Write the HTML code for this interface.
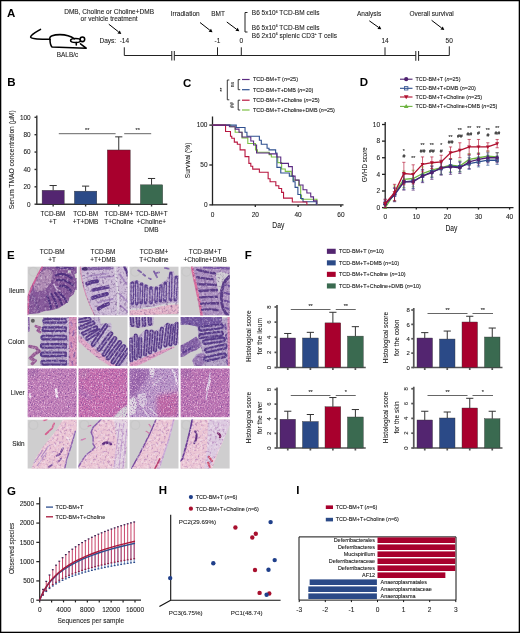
<!DOCTYPE html>
<html><head><meta charset="utf-8"><style>
html,body{margin:0;padding:0;background:#fff;}
svg{display:block;transform:translateZ(0);will-change:transform;}
text{font-family:"Liberation Sans", sans-serif;stroke:#1a1a1a;stroke-width:0.08px;}
</style></head><body>
<svg width="520" height="633" viewBox="0 0 520 633">
<defs><filter id="mott" x="0" y="0" width="1" height="1"><feTurbulence type="fractalNoise" baseFrequency="0.9" numOctaves="2" seed="3" result="n"/><feColorMatrix in="n" type="matrix" values="0 0 0 0 0.45  0 0 0 0 0.3  0 0 0 0 0.6  0 0 0 1.4 -0.55" result="spk"/><feComposite in="spk" in2="SourceGraphic" operator="atop"/></filter></defs>
<rect x="0" y="0" width="520" height="633" fill="#fff"/>
<text x="7.00" y="17.00" font-size="11.5" text-anchor="start" font-weight="bold" fill="#000"  style="stroke:none">A</text>
<g fill="none" stroke="#000" stroke-width="1.55" stroke-linecap="round" stroke-linejoin="round">
<path d="M40.5,29.4 C36,32 31,34.5 30.6,37 C30.5,39 40,39 49.5,39.3"/>
<path d="M50,39.5 C48.5,36 54,34.6 60,34.6 C66,34.7 71,36.3 74.5,38.8"/>
<path d="M50,39.5 C50,43 50.5,45.5 52,47 L86.2,48.2 L80.5,43.8"/>
<ellipse cx="75.6" cy="40.4" rx="5.0" ry="2.0"/>
<circle cx="82.4" cy="39.3" r="2.3" fill="#fff"/>
<line x1="76.3" y1="42.4" x2="76.3" y2="45.0"/>
</g>
<text x="67.50" y="57.00" font-size="6.4" text-anchor="middle" font-weight="normal" fill="#1a1a1a" >BALB/c</text>
<text x="109.10" y="13.50" font-size="6.5" text-anchor="middle" font-weight="normal" fill="#1a1a1a" >DMB, Choline or Choline+DMB</text>
<text x="109.10" y="20.60" font-size="6.5" text-anchor="middle" font-weight="normal" fill="#1a1a1a" >or vehicle treatment</text>
<text x="99.50" y="43.00" font-size="6.5" text-anchor="start" font-weight="normal" fill="#1a1a1a" >Days:</text>
<text x="124.40" y="43.00" font-size="6.5" text-anchor="middle" font-weight="normal" fill="#1a1a1a" >-14</text>
<text x="185.20" y="16.00" font-size="6.5" text-anchor="middle" font-weight="normal" fill="#1a1a1a" >Irradiation</text>
<text x="218.10" y="16.00" font-size="6.5" text-anchor="middle" font-weight="normal" fill="#1a1a1a" >BMT</text>
<text x="369.10" y="16.00" font-size="6.5" text-anchor="middle" font-weight="normal" fill="#1a1a1a" >Analysis</text>
<text x="431.60" y="16.00" font-size="6.5" text-anchor="middle" font-weight="normal" fill="#1a1a1a" >Overall survival</text>
<text x="217.50" y="43.00" font-size="6.5" text-anchor="middle" font-weight="normal" fill="#1a1a1a" >-1</text>
<text x="241.30" y="43.00" font-size="6.5" text-anchor="middle" font-weight="normal" fill="#1a1a1a" >0</text>
<text x="385.00" y="43.00" font-size="6.5" text-anchor="middle" font-weight="normal" fill="#1a1a1a" >14</text>
<text x="449.20" y="43.00" font-size="6.5" text-anchor="middle" font-weight="normal" fill="#1a1a1a" >50</text>
<g stroke="#222" stroke-width="1" fill="none">
<path d="M124.3,47.3 V55.5 H171.8 M174.3,55.5 H415.8 M418.6,55.5 H449.3 V46.3"/>
<path d="M217.5,55.5 V47.3 M241.3,55.5 V47.3 M385,55.5 V47.3"/>
<path d="M171.8,51 V60.5 M174.3,51 V60.5 M415.8,51 V60.8 M418.6,51 V60.8"/>
<path d="M247.5,12.5 H245 V32 H247.5"/>
</g>
<line x1="108.80" y1="24.20" x2="118.62" y2="31.90" stroke="#000" stroke-width="1.0" />
<path d="M121.30,34.00 L117.45,33.40 L119.80,30.41 Z" fill="#000"/>
<line x1="200.00" y1="22.50" x2="209.82" y2="30.20" stroke="#000" stroke-width="1.0" />
<path d="M212.50,32.30 L208.65,31.70 L211.00,28.71 Z" fill="#000"/>
<line x1="226.80" y1="22.00" x2="236.57" y2="29.27" stroke="#000" stroke-width="1.0" />
<path d="M239.30,31.30 L235.44,30.79 L237.71,27.75 Z" fill="#000"/>
<line x1="369.30" y1="20.80" x2="378.53" y2="27.33" stroke="#000" stroke-width="1.0" />
<path d="M381.30,29.30 L377.43,28.89 L379.62,25.78 Z" fill="#000"/>
<line x1="431.60" y1="20.30" x2="441.60" y2="27.94" stroke="#000" stroke-width="1.0" />
<path d="M444.30,30.00 L440.44,29.45 L442.75,26.43 Z" fill="#000"/>
<text x="251.80" y="15.30" font-size="6.5" text-anchor="start" font-weight="normal" fill="#1a1a1a" >B6 5x10<tspan dy="-2.7" font-size="3.6">6</tspan><tspan dy="2.7"> TCD-BM cells</tspan></text>
<text x="251.80" y="29.80" font-size="6.5" text-anchor="start" font-weight="normal" fill="#1a1a1a" >B6 5x10<tspan dy="-2.7" font-size="3.6">6</tspan><tspan dy="2.7"> TCD-BM cells</tspan></text>
<text x="251.80" y="38.00" font-size="6.5" text-anchor="start" font-weight="normal" fill="#1a1a1a" >B6 2x10<tspan dy="-2.7" font-size="3.6">6</tspan><tspan dy="2.7"> splenic CD3</tspan><tspan dy="-2.7" font-size="3.6">+</tspan><tspan dy="2.7"> T cells</tspan></text>
<text x="7.20" y="86.10" font-size="11.5" text-anchor="start" font-weight="bold" fill="#000"  style="stroke:none">B</text>
<g stroke="#333" stroke-width="1.4" fill="none">
<path d="M36.80,115.40 V204.20 H167.30"/>
<path d="M34.50,204.20 H36.80"/>
<path d="M34.50,186.82 H36.80"/>
<path d="M34.50,169.44 H36.80"/>
<path d="M34.50,152.06 H36.80"/>
<path d="M34.50,134.68 H36.80"/>
<path d="M34.50,117.30 H36.80"/>
<path d="M53.15,204.20 v2.30"/>
<path d="M85.60,204.20 v2.30"/>
<path d="M118.75,204.20 v2.30"/>
<path d="M151.55,204.20 v2.30"/>
</g>
<text x="30.60" y="206.50" font-size="6.4" text-anchor="end" font-weight="normal" fill="#1a1a1a" >0</text>
<text x="30.60" y="189.12" font-size="6.4" text-anchor="end" font-weight="normal" fill="#1a1a1a" >20</text>
<text x="30.60" y="171.74" font-size="6.4" text-anchor="end" font-weight="normal" fill="#1a1a1a" >40</text>
<text x="30.60" y="154.36" font-size="6.4" text-anchor="end" font-weight="normal" fill="#1a1a1a" >60</text>
<text x="30.60" y="136.98" font-size="6.4" text-anchor="end" font-weight="normal" fill="#1a1a1a" >80</text>
<text x="30.60" y="119.60" font-size="6.4" text-anchor="end" font-weight="normal" fill="#1a1a1a" >100</text>
<rect x="42.10" y="190.30" width="22.10" height="13.90" fill="#532570" stroke="#333" stroke-width="0.4"/>
<line x1="53.15" y1="190.30" x2="53.15" y2="185.52" stroke="#333" stroke-width="1.0" />
<line x1="49.55" y1="185.52" x2="56.75" y2="185.52" stroke="#333" stroke-width="1.0" />
<rect x="74.40" y="191.16" width="22.40" height="13.03" fill="#2b4a87" stroke="#333" stroke-width="0.4"/>
<line x1="85.60" y1="191.16" x2="85.60" y2="186.12" stroke="#333" stroke-width="1.0" />
<line x1="82.00" y1="186.12" x2="89.20" y2="186.12" stroke="#333" stroke-width="1.0" />
<rect x="107.30" y="149.97" width="22.90" height="54.23" fill="#a8002d" stroke="#333" stroke-width="0.4"/>
<line x1="118.75" y1="149.97" x2="118.75" y2="136.85" stroke="#333" stroke-width="1.0" />
<line x1="115.15" y1="136.85" x2="122.35" y2="136.85" stroke="#333" stroke-width="1.0" />
<rect x="140.40" y="184.82" width="22.30" height="19.38" fill="#3a6a50" stroke="#333" stroke-width="0.4"/>
<line x1="151.55" y1="184.82" x2="151.55" y2="178.48" stroke="#333" stroke-width="1.0" />
<line x1="147.95" y1="178.48" x2="155.15" y2="178.48" stroke="#333" stroke-width="1.0" />
<line x1="58.80" y1="133.70" x2="115.60" y2="133.70" stroke="#555" stroke-width="0.9" />
<text x="87.20" y="132.20" font-size="5.5" text-anchor="middle" font-weight="normal" fill="#333"  style="stroke-width:0.1px">**</text>
<line x1="124.20" y1="133.70" x2="151.20" y2="133.70" stroke="#555" stroke-width="0.9" />
<text x="137.70" y="132.20" font-size="5.5" text-anchor="middle" font-weight="normal" fill="#333"  style="stroke-width:0.1px">**</text>
<text transform="translate(14.20,159.80) rotate(-90) scale(0.8728542333430317,1)" font-size="7.7" text-anchor="middle" fill="#1a1a1a">Serum TMAO concentration (μM)</text>
<text x="52.90" y="216.30" font-size="6.4" text-anchor="middle" font-weight="normal" fill="#1a1a1a" >TCD-BM</text>
<text x="52.90" y="224.10" font-size="6.4" text-anchor="middle" font-weight="normal" fill="#1a1a1a" >+T</text>
<text x="85.60" y="216.30" font-size="6.4" text-anchor="middle" font-weight="normal" fill="#1a1a1a" >TCD-BM</text>
<text x="85.60" y="224.10" font-size="6.4" text-anchor="middle" font-weight="normal" fill="#1a1a1a" >+T+DMB</text>
<text x="118.90" y="216.30" font-size="6.4" text-anchor="middle" font-weight="normal" fill="#1a1a1a" >TCD-BM+</text>
<text x="118.90" y="224.10" font-size="6.4" text-anchor="middle" font-weight="normal" fill="#1a1a1a" >T+Choline</text>
<text x="151.40" y="216.30" font-size="6.4" text-anchor="middle" font-weight="normal" fill="#1a1a1a" >TCD-BM+T</text>
<text x="151.40" y="224.10" font-size="6.4" text-anchor="middle" font-weight="normal" fill="#1a1a1a" >+Choline+</text>
<text x="151.40" y="231.90" font-size="6.4" text-anchor="middle" font-weight="normal" fill="#1a1a1a" >DMB</text>
<text x="183.00" y="86.60" font-size="11.5" text-anchor="start" font-weight="bold" fill="#000"  style="stroke:none">C</text>
<line x1="242.00" y1="79.50" x2="249.60" y2="79.50" stroke="#5b2a82" stroke-width="1.2" />
<text x="253.00" y="81.40" font-size="5.45" text-anchor="start" font-weight="normal" fill="#1a1a1a"  style="stroke-width:0.1px">TCD-BM+T (<tspan font-style="italic">n</tspan>=25)</text>
<line x1="242.00" y1="89.70" x2="249.60" y2="89.70" stroke="#2e4f8f" stroke-width="1.2" />
<text x="253.00" y="91.60" font-size="5.45" text-anchor="start" font-weight="normal" fill="#1a1a1a"  style="stroke-width:0.1px">TCD-BM+T+DMB (<tspan font-style="italic">n</tspan>=20)</text>
<line x1="242.00" y1="100.20" x2="249.60" y2="100.20" stroke="#b8163f" stroke-width="1.2" />
<text x="253.00" y="102.10" font-size="5.45" text-anchor="start" font-weight="normal" fill="#1a1a1a"  style="stroke-width:0.1px">TCD-BM+T+Choline (<tspan font-style="italic">n</tspan>=25)</text>
<line x1="242.00" y1="110.00" x2="249.60" y2="110.00" stroke="#7cc043" stroke-width="1.2" />
<text x="253.00" y="111.90" font-size="5.45" text-anchor="start" font-weight="normal" fill="#1a1a1a"  style="stroke-width:0.1px">TCD-BM+T+Choline+DMB (<tspan font-style="italic">n</tspan>=25)</text>
<g stroke="#222" stroke-width="0.9" fill="none">
<path d="M240.2,79.6 H238.2 V89.7 H240.2"/>
<path d="M240.2,100.2 H238.2 V110.0 H240.2"/>
<path d="M229.3,80.0 H227.3 V99.8 H229.3"/>
</g>
<text transform="translate(233.6,84.6) rotate(-90)" font-size="5.2" text-anchor="middle" fill="#333">ns</text>
<text transform="translate(224.4,89.8) rotate(-90)" font-size="5.2" text-anchor="middle" fill="#333">**</text>
<text transform="translate(233.6,105.0) rotate(-90)" font-size="5.2" text-anchor="middle" fill="#333">##</text>
<g stroke="#222" stroke-width="1.3" fill="none">
<path d="M212.5,116.5 V204.9 H343.5"/>
<path d="M255.30,204.9 v2"/>
<path d="M298.10,204.9 v2"/>
<path d="M340.90,204.9 v2"/>
<path d="M209.3,204.90 h3.2"/>
<path d="M209.3,165.00 h3.2"/>
<path d="M209.3,125.10 h3.2"/>
</g>
<text x="212.50" y="216.70" font-size="6.5" text-anchor="middle" font-weight="normal" fill="#1a1a1a" >0</text>
<text x="255.30" y="216.70" font-size="6.5" text-anchor="middle" font-weight="normal" fill="#1a1a1a" >20</text>
<text x="298.10" y="216.70" font-size="6.5" text-anchor="middle" font-weight="normal" fill="#1a1a1a" >40</text>
<text x="340.90" y="216.70" font-size="6.5" text-anchor="middle" font-weight="normal" fill="#1a1a1a" >60</text>
<text x="207.50" y="207.20" font-size="6.5" text-anchor="end" font-weight="normal" fill="#1a1a1a" >0</text>
<text x="207.50" y="167.30" font-size="6.5" text-anchor="end" font-weight="normal" fill="#1a1a1a" >50</text>
<text x="207.50" y="127.40" font-size="6.5" text-anchor="end" font-weight="normal" fill="#1a1a1a" >100</text>
<text transform="translate(189.80,160.40) rotate(-90) scale(0.8466152038773075,1)" font-size="7.8" text-anchor="middle" fill="#1a1a1a">Survival (%)</text>
<text x="278.30" y="228.30" font-size="8.2" text-anchor="middle" font-weight="normal" fill="#1a1a1a" transform="translate(278.3,0) scale(0.82,1) translate(-278.3,0)">Day</text>
<path d="M212.50,125.10 H230.69 V126.70 H235.18 V128.29 H235.18 V132.28 H242.03 V132.28 H242.03 V137.87 H247.81 V137.87 H247.81 V143.45 H255.51 V143.45 H255.51 V149.84 H257.44 V149.84 H257.44 V152.23 H269.21 V152.23 H269.21 V154.63 H271.35 V154.63 H271.35 V157.02 H274.99 V157.02 H277.77 V162.61 H281.62 V162.61 H281.62 V168.99 H285.26 V168.99 H285.26 V171.38 H291.25 V171.38 H291.25 V176.17 H293.18 V176.17 H293.18 V180.16 H298.74 V180.16 H298.74 V185.75 H300.67 V185.75 H300.67 V195.32 H301.52 V195.32 H301.52 V199.31 H316.93 V199.31 H316.93 V204.90" fill="none" stroke="#7cc043" stroke-width="1.1"/>
<path d="M212.50,125.10 H236.25 V125.10 H236.25 V127.49 H245.03 V127.49 H245.03 V132.28 H246.95 V132.28 H246.95 V136.27 H259.37 V136.27 H259.37 V140.26 H261.29 V140.26 H261.29 V144.25 H267.07 V144.25 H267.07 V148.24 H269.00 V148.24 H269.00 V149.84 H272.85 V149.84 H275.63 V153.03 H276.91 V153.03 H276.91 V167.39 H280.77 V167.39 H280.77 V172.98 H289.33 V172.98 H289.33 V176.17 H293.18 V176.17 H293.18 V181.76 H295.10 V181.76 H295.10 V187.34 H297.89 V187.34 H297.89 V194.53 H300.67 V194.53 H300.67 V198.52 H303.02 V198.52 H303.02 V201.71 H316.29 V201.71 H316.29 V204.90" fill="none" stroke="#2e4f8f" stroke-width="1.1"/>
<path d="M212.50,125.10 H225.55 V125.10 H225.55 V131.48 H230.48 V131.48 H230.48 V136.27 H231.76 V136.27 H231.76 V138.27 H234.33 V138.27 H234.33 V142.10 H237.32 V142.10 H237.32 V144.25 H240.11 V144.25 H240.11 V149.84 H245.03 V149.84 H245.03 V156.62 H248.88 V156.62 H248.88 V163.40 H250.81 V163.40 H250.81 V166.28 H252.73 V166.28 H252.73 V169.15 H259.37 V169.15 H259.37 V172.18 H268.14 V172.18 H268.14 V178.81 H270.07 V178.81 H270.07 V181.76 H275.84 V181.76 H275.84 V185.75 H278.84 V185.75 H278.84 V188.46 H281.62 V188.46 H281.62 V192.37 H283.55 V192.37 H283.55 V198.12 H292.32 V198.12 H292.32 V202.03 H306.87 V202.03 H306.87 V204.90" fill="none" stroke="#b8163f" stroke-width="1.1"/>
<path d="M212.50,125.10 H229.41 V125.10 H229.41 V126.70 H235.18 V126.70 H235.18 V129.09 H239.04 V129.09 H239.04 V132.28 H242.03 V132.28 H242.03 V137.07 H250.81 V137.07 H250.81 V141.06 H253.59 V141.06 H253.59 V145.05 H256.58 V145.05 H256.58 V153.03 H269.21 V153.03 H269.21 V153.83 H276.91 V153.83 H276.91 V157.02 H280.77 V157.02 H280.77 V163.40 H288.47 V163.40 H288.47 V166.60 H292.32 V166.60 H292.32 V176.17 H295.10 V176.17 H295.10 V180.16 H299.17 V180.16 H299.17 V184.95 H303.02 V184.95 H303.02 V189.74 H306.87 V189.74 H306.87 V192.93 H310.73 V192.93 H310.73 V196.92 H313.51 V196.92 H313.51 V200.91 H316.93 V200.91 H316.93 V204.90" fill="none" stroke="#5b2a82" stroke-width="1.1"/>
<text x="359.80" y="86.30" font-size="11.5" text-anchor="start" font-weight="bold" fill="#000"  style="stroke:none">D</text>
<line x1="400.00" y1="79.20" x2="412.50" y2="79.20" stroke="#4e2170" stroke-width="1.1" />
<circle cx="406.20" cy="79.20" r="2.10" fill="#4e2170"/>
<text x="415.50" y="81.10" font-size="5.45" text-anchor="start" font-weight="normal" fill="#1a1a1a"  style="stroke-width:0.1px">TCD-BM+T (<tspan font-style="italic">n</tspan>=25)</text>
<line x1="400.00" y1="88.30" x2="412.50" y2="88.30" stroke="#2e4f8f" stroke-width="1.1" />
<rect x="404.50" y="86.60" width="3.40" height="3.40" fill="none" stroke="#2e4f8f" stroke-width="0.8"/>
<text x="415.50" y="90.20" font-size="5.45" text-anchor="start" font-weight="normal" fill="#1a1a1a"  style="stroke-width:0.1px">TCD-BM+T+DMB (<tspan font-style="italic">n</tspan>=20)</text>
<line x1="400.00" y1="97.00" x2="412.50" y2="97.00" stroke="#b0102f" stroke-width="1.1" />
<path d="M403.89,95.32 H408.51 L406.20,99.31 Z" fill="#b0102f"/>
<text x="415.50" y="98.90" font-size="5.45" text-anchor="start" font-weight="normal" fill="#1a1a1a"  style="stroke-width:0.1px">TCD-BM+T+Choline (<tspan font-style="italic">n</tspan>=25)</text>
<line x1="400.00" y1="106.40" x2="412.50" y2="106.40" stroke="#6cb33f" stroke-width="1.1" />
<path d="M403.89,108.08 H408.51 L406.20,104.09 Z" fill="#6cb33f"/>
<text x="415.50" y="108.30" font-size="5.45" text-anchor="start" font-weight="normal" fill="#1a1a1a"  style="stroke-width:0.1px">TCD-BM+T+Choline+DMB (<tspan font-style="italic">n</tspan>=25)</text>
<g stroke="#222" stroke-width="1.3" fill="none">
<path d="M385.2,122.0 V207.6 H513.5"/>
<path d="M416.30,207.6 v2"/>
<path d="M447.40,207.6 v2"/>
<path d="M478.50,207.6 v2"/>
<path d="M509.60,207.6 v2"/>
<path d="M382.0,207.60 h3.2"/>
<path d="M382.0,190.98 h3.2"/>
<path d="M382.0,174.36 h3.2"/>
<path d="M382.0,157.74 h3.2"/>
<path d="M382.0,141.12 h3.2"/>
<path d="M382.0,124.50 h3.2"/>
</g>
<text x="385.20" y="219.40" font-size="6.5" text-anchor="middle" font-weight="normal" fill="#1a1a1a" >0</text>
<text x="416.30" y="219.40" font-size="6.5" text-anchor="middle" font-weight="normal" fill="#1a1a1a" >10</text>
<text x="447.40" y="219.40" font-size="6.5" text-anchor="middle" font-weight="normal" fill="#1a1a1a" >20</text>
<text x="478.50" y="219.40" font-size="6.5" text-anchor="middle" font-weight="normal" fill="#1a1a1a" >30</text>
<text x="509.60" y="219.40" font-size="6.5" text-anchor="middle" font-weight="normal" fill="#1a1a1a" >40</text>
<text x="380.00" y="209.90" font-size="6.5" text-anchor="end" font-weight="normal" fill="#1a1a1a" >0</text>
<text x="380.00" y="193.28" font-size="6.5" text-anchor="end" font-weight="normal" fill="#1a1a1a" >2</text>
<text x="380.00" y="176.66" font-size="6.5" text-anchor="end" font-weight="normal" fill="#1a1a1a" >4</text>
<text x="380.00" y="160.04" font-size="6.5" text-anchor="end" font-weight="normal" fill="#1a1a1a" >6</text>
<text x="380.00" y="143.42" font-size="6.5" text-anchor="end" font-weight="normal" fill="#1a1a1a" >8</text>
<text x="380.00" y="126.80" font-size="6.5" text-anchor="end" font-weight="normal" fill="#1a1a1a" >10</text>
<text transform="translate(366.50,164.60) rotate(-90) scale(0.7949997258621634,1)" font-size="7.8" text-anchor="middle" fill="#1a1a1a">GVHD score</text>
<text x="451.40" y="231.30" font-size="8.2" text-anchor="middle" font-weight="normal" fill="#1a1a1a" transform="translate(451.4,0) scale(0.82,1) translate(-451.4,0)">Day</text>
<path d="M385.20,204.28 V207.60 M383.60,204.28 h3.2 M383.60,207.60 h3.2" stroke="#6cb33f" stroke-width="0.8" fill="none" opacity="0.8"/>
<path d="M394.53,185.99 V200.95 M392.93,185.99 h3.2 M392.93,200.95 h3.2" stroke="#6cb33f" stroke-width="0.8" fill="none" opacity="0.8"/>
<path d="M403.86,171.04 V187.66 M402.26,171.04 h3.2 M402.26,187.66 h3.2" stroke="#6cb33f" stroke-width="0.8" fill="none" opacity="0.8"/>
<path d="M413.19,170.20 V186.82 M411.59,170.20 h3.2 M411.59,186.82 h3.2" stroke="#6cb33f" stroke-width="0.8" fill="none" opacity="0.8"/>
<path d="M422.52,166.88 V180.18 M420.92,166.88 h3.2 M420.92,180.18 h3.2" stroke="#6cb33f" stroke-width="0.8" fill="none" opacity="0.8"/>
<path d="M431.85,163.56 V176.85 M430.25,163.56 h3.2 M430.25,176.85 h3.2" stroke="#6cb33f" stroke-width="0.8" fill="none" opacity="0.8"/>
<path d="M441.18,161.06 V174.36 M439.58,161.06 h3.2 M439.58,174.36 h3.2" stroke="#6cb33f" stroke-width="0.8" fill="none" opacity="0.8"/>
<path d="M450.51,158.57 V171.87 M448.91,158.57 h3.2 M448.91,171.87 h3.2" stroke="#6cb33f" stroke-width="0.8" fill="none" opacity="0.8"/>
<path d="M459.84,160.23 V171.87 M458.24,160.23 h3.2 M458.24,171.87 h3.2" stroke="#6cb33f" stroke-width="0.8" fill="none" opacity="0.8"/>
<path d="M469.17,153.59 V165.22 M467.57,153.59 h3.2 M467.57,165.22 h3.2" stroke="#6cb33f" stroke-width="0.8" fill="none" opacity="0.8"/>
<path d="M478.50,152.75 V162.73 M476.90,152.75 h3.2 M476.90,162.73 h3.2" stroke="#6cb33f" stroke-width="0.8" fill="none" opacity="0.8"/>
<path d="M487.83,151.09 V161.06 M486.23,151.09 h3.2 M486.23,161.06 h3.2" stroke="#6cb33f" stroke-width="0.8" fill="none" opacity="0.8"/>
<path d="M497.16,152.75 V161.06 M495.56,152.75 h3.2 M495.56,161.06 h3.2" stroke="#6cb33f" stroke-width="0.8" fill="none" opacity="0.8"/>
<polyline points="385.20,207.60 394.53,193.47 403.86,179.35 413.19,178.51 422.52,173.53 431.85,170.20 441.18,167.71 450.51,165.22 459.84,166.05 469.17,159.40 478.50,157.74 487.83,156.08 497.16,156.91" fill="none" stroke="#6cb33f" stroke-width="1.3"/>
<path d="M383.22,209.04 H387.18 L385.20,205.62 Z" fill="#6cb33f"/>
<path d="M392.55,194.91 H396.51 L394.53,191.49 Z" fill="#6cb33f"/>
<path d="M401.88,180.79 H405.84 L403.86,177.37 Z" fill="#6cb33f"/>
<path d="M411.21,179.95 H415.17 L413.19,176.53 Z" fill="#6cb33f"/>
<path d="M420.54,174.97 H424.50 L422.52,171.55 Z" fill="#6cb33f"/>
<path d="M429.87,171.64 H433.83 L431.85,168.22 Z" fill="#6cb33f"/>
<path d="M439.20,169.15 H443.16 L441.18,165.73 Z" fill="#6cb33f"/>
<path d="M448.53,166.66 H452.49 L450.51,163.24 Z" fill="#6cb33f"/>
<path d="M457.86,167.49 H461.82 L459.84,164.07 Z" fill="#6cb33f"/>
<path d="M467.19,160.84 H471.15 L469.17,157.42 Z" fill="#6cb33f"/>
<path d="M476.52,159.18 H480.48 L478.50,155.76 Z" fill="#6cb33f"/>
<path d="M485.85,157.52 H489.81 L487.83,154.10 Z" fill="#6cb33f"/>
<path d="M495.18,158.35 H499.14 L497.16,154.93 Z" fill="#6cb33f"/>
<path d="M385.20,199.29 V207.60 M383.60,199.29 h3.2 M383.60,207.60 h3.2" stroke="#2e4f8f" stroke-width="0.8" fill="none" opacity="0.8"/>
<path d="M394.53,188.49 V201.78 M392.93,188.49 h3.2 M392.93,201.78 h3.2" stroke="#2e4f8f" stroke-width="0.8" fill="none" opacity="0.8"/>
<path d="M403.86,174.36 V189.32 M402.26,174.36 h3.2 M402.26,189.32 h3.2" stroke="#2e4f8f" stroke-width="0.8" fill="none" opacity="0.8"/>
<path d="M413.19,173.53 V188.49 M411.59,173.53 h3.2 M411.59,188.49 h3.2" stroke="#2e4f8f" stroke-width="0.8" fill="none" opacity="0.8"/>
<path d="M422.52,170.20 V181.84 M420.92,170.20 h3.2 M420.92,181.84 h3.2" stroke="#2e4f8f" stroke-width="0.8" fill="none" opacity="0.8"/>
<path d="M431.85,166.05 V177.68 M430.25,166.05 h3.2 M430.25,177.68 h3.2" stroke="#2e4f8f" stroke-width="0.8" fill="none" opacity="0.8"/>
<path d="M441.18,162.73 V174.36 M439.58,162.73 h3.2 M439.58,174.36 h3.2" stroke="#2e4f8f" stroke-width="0.8" fill="none" opacity="0.8"/>
<path d="M450.51,159.40 V172.70 M448.91,159.40 h3.2 M448.91,172.70 h3.2" stroke="#2e4f8f" stroke-width="0.8" fill="none" opacity="0.8"/>
<path d="M459.84,161.90 V171.87 M458.24,161.90 h3.2 M458.24,171.87 h3.2" stroke="#2e4f8f" stroke-width="0.8" fill="none" opacity="0.8"/>
<path d="M469.17,157.74 V169.37 M467.57,157.74 h3.2 M467.57,169.37 h3.2" stroke="#2e4f8f" stroke-width="0.8" fill="none" opacity="0.8"/>
<path d="M478.50,156.91 V166.88 M476.90,156.91 h3.2 M476.90,166.88 h3.2" stroke="#2e4f8f" stroke-width="0.8" fill="none" opacity="0.8"/>
<path d="M487.83,155.25 V165.22 M486.23,155.25 h3.2 M486.23,165.22 h3.2" stroke="#2e4f8f" stroke-width="0.8" fill="none" opacity="0.8"/>
<path d="M497.16,156.08 V164.39 M495.56,156.08 h3.2 M495.56,164.39 h3.2" stroke="#2e4f8f" stroke-width="0.8" fill="none" opacity="0.8"/>
<polyline points="385.20,203.44 394.53,195.13 403.86,181.84 413.19,181.01 422.52,176.02 431.85,171.87 441.18,168.54 450.51,166.05 459.84,166.88 469.17,163.56 478.50,161.90 487.83,160.23 497.16,160.23" fill="none" stroke="#2e4f8f" stroke-width="1.3"/>
<rect x="383.80" y="202.04" width="2.80" height="2.80" fill="none" stroke="#2e4f8f" stroke-width="0.8"/>
<rect x="393.13" y="193.73" width="2.80" height="2.80" fill="none" stroke="#2e4f8f" stroke-width="0.8"/>
<rect x="402.46" y="180.44" width="2.80" height="2.80" fill="none" stroke="#2e4f8f" stroke-width="0.8"/>
<rect x="411.79" y="179.61" width="2.80" height="2.80" fill="none" stroke="#2e4f8f" stroke-width="0.8"/>
<rect x="421.12" y="174.62" width="2.80" height="2.80" fill="none" stroke="#2e4f8f" stroke-width="0.8"/>
<rect x="430.45" y="170.47" width="2.80" height="2.80" fill="none" stroke="#2e4f8f" stroke-width="0.8"/>
<rect x="439.78" y="167.14" width="2.80" height="2.80" fill="none" stroke="#2e4f8f" stroke-width="0.8"/>
<rect x="449.11" y="164.65" width="2.80" height="2.80" fill="none" stroke="#2e4f8f" stroke-width="0.8"/>
<rect x="458.44" y="165.48" width="2.80" height="2.80" fill="none" stroke="#2e4f8f" stroke-width="0.8"/>
<rect x="467.77" y="162.16" width="2.80" height="2.80" fill="none" stroke="#2e4f8f" stroke-width="0.8"/>
<rect x="477.10" y="160.50" width="2.80" height="2.80" fill="none" stroke="#2e4f8f" stroke-width="0.8"/>
<rect x="486.43" y="158.83" width="2.80" height="2.80" fill="none" stroke="#2e4f8f" stroke-width="0.8"/>
<rect x="495.76" y="158.83" width="2.80" height="2.80" fill="none" stroke="#2e4f8f" stroke-width="0.8"/>
<path d="M385.20,200.95 V207.60 M383.60,200.95 h3.2 M383.60,207.60 h3.2" stroke="#4e2170" stroke-width="0.8" fill="none" opacity="0.8"/>
<path d="M394.53,187.66 V200.95 M392.93,187.66 h3.2 M392.93,200.95 h3.2" stroke="#4e2170" stroke-width="0.8" fill="none" opacity="0.8"/>
<path d="M403.86,173.53 V190.15 M402.26,173.53 h3.2 M402.26,190.15 h3.2" stroke="#4e2170" stroke-width="0.8" fill="none" opacity="0.8"/>
<path d="M413.19,173.53 V190.15 M411.59,173.53 h3.2 M411.59,190.15 h3.2" stroke="#4e2170" stroke-width="0.8" fill="none" opacity="0.8"/>
<path d="M422.52,169.37 V182.67 M420.92,169.37 h3.2 M420.92,182.67 h3.2" stroke="#4e2170" stroke-width="0.8" fill="none" opacity="0.8"/>
<path d="M431.85,166.05 V179.35 M430.25,166.05 h3.2 M430.25,179.35 h3.2" stroke="#4e2170" stroke-width="0.8" fill="none" opacity="0.8"/>
<path d="M441.18,160.23 V175.19 M439.58,160.23 h3.2 M439.58,175.19 h3.2" stroke="#4e2170" stroke-width="0.8" fill="none" opacity="0.8"/>
<path d="M450.51,159.40 V174.36 M448.91,159.40 h3.2 M448.91,174.36 h3.2" stroke="#4e2170" stroke-width="0.8" fill="none" opacity="0.8"/>
<path d="M459.84,161.90 V173.53 M458.24,161.90 h3.2 M458.24,173.53 h3.2" stroke="#4e2170" stroke-width="0.8" fill="none" opacity="0.8"/>
<path d="M469.17,155.25 V168.54 M467.57,155.25 h3.2 M467.57,168.54 h3.2" stroke="#4e2170" stroke-width="0.8" fill="none" opacity="0.8"/>
<path d="M478.50,153.59 V165.22 M476.90,153.59 h3.2 M476.90,165.22 h3.2" stroke="#4e2170" stroke-width="0.8" fill="none" opacity="0.8"/>
<path d="M487.83,152.75 V162.73 M486.23,152.75 h3.2 M486.23,162.73 h3.2" stroke="#4e2170" stroke-width="0.8" fill="none" opacity="0.8"/>
<path d="M497.16,152.75 V162.73 M495.56,152.75 h3.2 M495.56,162.73 h3.2" stroke="#4e2170" stroke-width="0.8" fill="none" opacity="0.8"/>
<polyline points="385.20,204.28 394.53,194.30 403.86,181.84 413.19,181.84 422.52,176.02 431.85,172.70 441.18,167.71 450.51,166.88 459.84,167.71 469.17,161.90 478.50,159.40 487.83,157.74 497.16,157.74" fill="none" stroke="#4e2170" stroke-width="1.3"/>
<circle cx="385.20" cy="204.28" r="1.80" fill="#4e2170"/>
<circle cx="394.53" cy="194.30" r="1.80" fill="#4e2170"/>
<circle cx="403.86" cy="181.84" r="1.80" fill="#4e2170"/>
<circle cx="413.19" cy="181.84" r="1.80" fill="#4e2170"/>
<circle cx="422.52" cy="176.02" r="1.80" fill="#4e2170"/>
<circle cx="431.85" cy="172.70" r="1.80" fill="#4e2170"/>
<circle cx="441.18" cy="167.71" r="1.80" fill="#4e2170"/>
<circle cx="450.51" cy="166.88" r="1.80" fill="#4e2170"/>
<circle cx="459.84" cy="167.71" r="1.80" fill="#4e2170"/>
<circle cx="469.17" cy="161.90" r="1.80" fill="#4e2170"/>
<circle cx="478.50" cy="159.40" r="1.80" fill="#4e2170"/>
<circle cx="487.83" cy="157.74" r="1.80" fill="#4e2170"/>
<circle cx="497.16" cy="157.74" r="1.80" fill="#4e2170"/>
<path d="M385.20,199.29 V207.60 M383.60,199.29 h3.2 M383.60,207.60 h3.2" stroke="#b0102f" stroke-width="0.8" fill="none" opacity="0.8"/>
<path d="M394.53,184.33 V200.95 M392.93,184.33 h3.2 M392.93,200.95 h3.2" stroke="#b0102f" stroke-width="0.8" fill="none" opacity="0.8"/>
<path d="M403.86,162.31 V184.75 M402.26,162.31 h3.2 M402.26,184.75 h3.2" stroke="#b0102f" stroke-width="0.8" fill="none" opacity="0.8"/>
<path d="M413.19,164.80 V183.92 M411.59,164.80 h3.2 M411.59,183.92 h3.2" stroke="#b0102f" stroke-width="0.8" fill="none" opacity="0.8"/>
<path d="M422.52,156.91 V171.87 M420.92,156.91 h3.2 M420.92,171.87 h3.2" stroke="#b0102f" stroke-width="0.8" fill="none" opacity="0.8"/>
<path d="M431.85,156.91 V168.54 M430.25,156.91 h3.2 M430.25,168.54 h3.2" stroke="#b0102f" stroke-width="0.8" fill="none" opacity="0.8"/>
<path d="M441.18,155.25 V168.54 M439.58,155.25 h3.2 M439.58,168.54 h3.2" stroke="#b0102f" stroke-width="0.8" fill="none" opacity="0.8"/>
<path d="M450.51,146.94 V158.57 M448.91,146.94 h3.2 M448.91,158.57 h3.2" stroke="#b0102f" stroke-width="0.8" fill="none" opacity="0.8"/>
<path d="M459.84,142.78 V157.74 M458.24,142.78 h3.2 M458.24,157.74 h3.2" stroke="#b0102f" stroke-width="0.8" fill="none" opacity="0.8"/>
<path d="M469.17,139.46 V154.42 M467.57,139.46 h3.2 M467.57,154.42 h3.2" stroke="#b0102f" stroke-width="0.8" fill="none" opacity="0.8"/>
<path d="M478.50,139.46 V154.42 M476.90,139.46 h3.2 M476.90,154.42 h3.2" stroke="#b0102f" stroke-width="0.8" fill="none" opacity="0.8"/>
<path d="M487.83,142.78 V151.09 M486.23,142.78 h3.2 M486.23,151.09 h3.2" stroke="#b0102f" stroke-width="0.8" fill="none" opacity="0.8"/>
<path d="M497.16,139.46 V147.77 M495.56,139.46 h3.2 M495.56,147.77 h3.2" stroke="#b0102f" stroke-width="0.8" fill="none" opacity="0.8"/>
<polyline points="385.20,203.44 394.53,192.64 403.86,173.53 413.19,174.36 422.52,164.39 431.85,162.73 441.18,161.90 450.51,152.75 459.84,150.26 469.17,146.94 478.50,146.94 487.83,146.94 497.16,143.61" fill="none" stroke="#b0102f" stroke-width="1.3"/>
<path d="M383.22,202.00 H387.18 L385.20,205.42 Z" fill="#b0102f"/>
<path d="M392.55,191.20 H396.51 L394.53,194.62 Z" fill="#b0102f"/>
<path d="M401.88,172.09 H405.84 L403.86,175.51 Z" fill="#b0102f"/>
<path d="M411.21,172.92 H415.17 L413.19,176.34 Z" fill="#b0102f"/>
<path d="M420.54,162.95 H424.50 L422.52,166.37 Z" fill="#b0102f"/>
<path d="M429.87,161.29 H433.83 L431.85,164.71 Z" fill="#b0102f"/>
<path d="M439.20,160.46 H443.16 L441.18,163.88 Z" fill="#b0102f"/>
<path d="M448.53,151.31 H452.49 L450.51,154.73 Z" fill="#b0102f"/>
<path d="M457.86,148.82 H461.82 L459.84,152.24 Z" fill="#b0102f"/>
<path d="M467.19,145.50 H471.15 L469.17,148.92 Z" fill="#b0102f"/>
<path d="M476.52,145.50 H480.48 L478.50,148.92 Z" fill="#b0102f"/>
<path d="M485.85,145.50 H489.81 L487.83,148.92 Z" fill="#b0102f"/>
<path d="M495.18,142.17 H499.14 L497.16,145.59 Z" fill="#b0102f"/>
<text x="403.86" y="152.50" font-size="5.2" text-anchor="middle" font-weight="normal" fill="#333"  style="stroke-width:0.1px">*</text>
<text x="403.86" y="157.90" font-size="5.0" text-anchor="middle" font-weight="normal" fill="#333" font-style="italic" style="stroke-width:0.1px">#</text>
<text x="413.19" y="160.00" font-size="5.2" text-anchor="middle" font-weight="normal" fill="#333"  style="stroke-width:0.1px">**</text>
<text x="422.52" y="147.20" font-size="5.2" text-anchor="middle" font-weight="normal" fill="#333"  style="stroke-width:0.1px">**</text>
<text x="422.52" y="152.60" font-size="5.0" text-anchor="middle" font-weight="normal" fill="#333" font-style="italic" style="stroke-width:0.1px">##</text>
<text x="431.85" y="147.20" font-size="5.2" text-anchor="middle" font-weight="normal" fill="#333"  style="stroke-width:0.1px">**</text>
<text x="431.85" y="152.60" font-size="5.0" text-anchor="middle" font-weight="normal" fill="#333" font-style="italic" style="stroke-width:0.1px">##</text>
<text x="441.18" y="147.20" font-size="5.2" text-anchor="middle" font-weight="normal" fill="#333"  style="stroke-width:0.1px">*</text>
<text x="441.18" y="152.60" font-size="5.0" text-anchor="middle" font-weight="normal" fill="#333" font-style="italic" style="stroke-width:0.1px">#</text>
<text x="450.51" y="138.80" font-size="5.2" text-anchor="middle" font-weight="normal" fill="#333"  style="stroke-width:0.1px">**</text>
<text x="450.51" y="144.20" font-size="5.0" text-anchor="middle" font-weight="normal" fill="#333" font-style="italic" style="stroke-width:0.1px">##</text>
<text x="459.84" y="132.20" font-size="5.2" text-anchor="middle" font-weight="normal" fill="#333"  style="stroke-width:0.1px">**</text>
<text x="459.84" y="137.60" font-size="5.0" text-anchor="middle" font-weight="normal" fill="#333" font-style="italic" style="stroke-width:0.1px">##</text>
<text x="469.17" y="130.40" font-size="5.2" text-anchor="middle" font-weight="normal" fill="#333"  style="stroke-width:0.1px">**</text>
<text x="469.17" y="135.80" font-size="5.0" text-anchor="middle" font-weight="normal" fill="#333" font-style="italic" style="stroke-width:0.1px">##</text>
<text x="478.50" y="129.90" font-size="5.2" text-anchor="middle" font-weight="normal" fill="#333"  style="stroke-width:0.1px">**</text>
<text x="478.50" y="135.30" font-size="5.0" text-anchor="middle" font-weight="normal" fill="#333" font-style="italic" style="stroke-width:0.1px">#</text>
<text x="487.83" y="132.00" font-size="5.2" text-anchor="middle" font-weight="normal" fill="#333"  style="stroke-width:0.1px">**</text>
<text x="487.83" y="137.40" font-size="5.0" text-anchor="middle" font-weight="normal" fill="#333" font-style="italic" style="stroke-width:0.1px">#</text>
<text x="497.16" y="130.00" font-size="5.2" text-anchor="middle" font-weight="normal" fill="#333"  style="stroke-width:0.1px">**</text>
<text x="497.16" y="135.40" font-size="5.0" text-anchor="middle" font-weight="normal" fill="#333" font-style="italic" style="stroke-width:0.1px">##</text>
<text x="7.00" y="258.80" font-size="11.5" text-anchor="start" font-weight="bold" fill="#000"  style="stroke:none">E</text>
<text x="52.10" y="253.90" font-size="6.4" text-anchor="middle" font-weight="normal" fill="#1a1a1a" >TCD-BM</text>
<text x="52.10" y="261.60" font-size="6.4" text-anchor="middle" font-weight="normal" fill="#1a1a1a" >+T</text>
<text x="103.00" y="253.90" font-size="6.4" text-anchor="middle" font-weight="normal" fill="#1a1a1a" >TCD-BM</text>
<text x="103.00" y="261.60" font-size="6.4" text-anchor="middle" font-weight="normal" fill="#1a1a1a" >+T+DMB</text>
<text x="154.00" y="253.90" font-size="6.4" text-anchor="middle" font-weight="normal" fill="#1a1a1a" >TCD-BM+</text>
<text x="154.00" y="261.60" font-size="6.4" text-anchor="middle" font-weight="normal" fill="#1a1a1a" >T+Choline</text>
<text x="205.10" y="253.90" font-size="6.4" text-anchor="middle" font-weight="normal" fill="#1a1a1a" >TCD-BM+T</text>
<text x="205.10" y="261.60" font-size="6.4" text-anchor="middle" font-weight="normal" fill="#1a1a1a" >+Choline+DMB</text>
<text x="24.60" y="293.30" font-size="6.4" text-anchor="end" font-weight="normal" fill="#1a1a1a" >Ileum</text>
<text x="24.60" y="343.80" font-size="6.4" text-anchor="end" font-weight="normal" fill="#1a1a1a" >Colon</text>
<text x="24.60" y="395.10" font-size="6.4" text-anchor="end" font-weight="normal" fill="#1a1a1a" >Liver</text>
<text x="24.60" y="446.40" font-size="6.4" text-anchor="end" font-weight="normal" fill="#1a1a1a" >Skin</text>
<defs>
<filter id="tex" x="0" y="0" width="1" height="1" color-interpolation-filters="sRGB">
<feTurbulence type="fractalNoise" baseFrequency="0.45" numOctaves="2" seed="4" result="n"/>
<feColorMatrix in="n" type="matrix" values="0 0 0 0 0.33  0 0 0 0 0.18  0 0 0 0 0.45  1.6 0 0 0 -0.800" result="dk"/>
<feColorMatrix in="n" type="matrix" values="0 0 0 0 0.93  0 0 0 0 0.88  0 0 0 0 0.93  0 1.6 0 0 -0.832" result="lt"/>
<feComposite in="dk" in2="SourceGraphic" operator="atop" result="c1"/>
<feComposite in="lt" in2="c1" operator="atop" result="c2"/>
<feGaussianBlur in="c2" stdDeviation="0.6"/>
</filter>
<filter id="texl" x="0" y="0" width="1" height="1" color-interpolation-filters="sRGB">
<feTurbulence type="fractalNoise" baseFrequency="0.7" numOctaves="2" seed="7" result="n"/>
<feColorMatrix in="n" type="matrix" values="0 0 0 0 0.5  0 0 0 0 0.28  0 0 0 0 0.6  2.4 0 0 0 -1.152" result="dk"/>
<feColorMatrix in="n" type="matrix" values="0 0 0 0 0.95  0 0 0 0 0.8  0 0 0 0 0.9  0 2.4 0 0 -1.200" result="lt"/>
<feComposite in="dk" in2="SourceGraphic" operator="atop" result="c1"/>
<feComposite in="lt" in2="c1" operator="atop" result="c2"/>
<feGaussianBlur in="c2" stdDeviation="0.4"/>
</filter>
<filter id="texs" x="0" y="0" width="1" height="1" color-interpolation-filters="sRGB">
<feTurbulence type="fractalNoise" baseFrequency="0.4" numOctaves="2" seed="9" result="n"/>
<feColorMatrix in="n" type="matrix" values="0 0 0 0 0.6  0 0 0 0 0.35  0 0 0 0 0.65  2.0 0 0 0 -1.040" result="dk"/>
<feColorMatrix in="n" type="matrix" values="0 0 0 0 0.97  0 0 0 0 0.93  0 0 0 0 0.95  0 2.0 0 0 -1.000" result="lt"/>
<feComposite in="dk" in2="SourceGraphic" operator="atop" result="c1"/>
<feComposite in="lt" in2="c1" operator="atop" result="c2"/>
<feGaussianBlur in="c2" stdDeviation="0.45"/>
</filter>
<filter id="bl" x="0" y="0" width="1" height="1"><feGaussianBlur stdDeviation="0.5"/></filter>
</defs>
<clipPath id="clip00"><rect x="0" y="0" width="50" height="50"/></clipPath>
<g transform="translate(27.4,266.4) scale(0.9880,0.9840)" clip-path="url(#clip00)">
<rect width="50" height="50" fill="#cfcecf"/><circle cx="6" cy="5.5" r="4.5" fill="none" stroke="#c2c2c2" stroke-width="1.2" opacity="0.5"/>
<g filter="url(#tex)">

      <polygon points="14.6,0 50,0 50,7 47.6,7.6 48.4,11.6 50,12 50,24 48.6,23.6 46.6,28.6 42.6,31.6 41.6,35.6 37.6,38.6 31.6,42.6 24.6,44.6 16.6,45.6 11.6,47.6 0.6,48.6 0.6,50 0,50 0,30 1.1,29.6 4.6,20.6 10.6,8.6" fill="#86599a" />
      <polygon points="12,8 20,2 26,6 24,16 18,24 10,26 6,20" fill="#b08cb4" />
      <path d="M15,0.5 L10.6,8.6 L4.6,20.6 L1.1,29.6 L0.6,48" fill="none" stroke="#d0609a" stroke-width="1.8" stroke-linecap="round" stroke-linejoin="round" />
      <path d="M29,9 C34,7 40,8 45,12 M30,14 C35,13 41,15 46,19 M33,20 C37,19 41,21 44,25" fill="none" stroke="#4e2f7e" stroke-width="2.4" stroke-linecap="round" stroke-linejoin="round" />
      <path d="M24,28 C27,32 29,36 30,41 M28,27 C32,31 34,35 35,39 M32,26 C35,29 38,33 40,36 M20,30 C22,34 23,38 24,43" fill="none" stroke="#4e2f7e" stroke-width="2.1" stroke-linecap="round" stroke-linejoin="round" />
      <polygon points="41,4 44,4 44,7 41,7" fill="#cfcdd0" />
      <path d="M30,1 L46,2" fill="none" stroke="#5b3a88" stroke-width="2.5" stroke-linecap="round" stroke-linejoin="round" />
      <path d="M27,18 C28,22 30,24 33,25" fill="none" stroke="#c9b3d3" stroke-width="1.5" stroke-linecap="round" stroke-linejoin="round" />
      <path d="M5,30 C8,34 10,40 12,46" fill="none" stroke="#7a5596" stroke-width="2" stroke-linecap="round" stroke-linejoin="round" />
    
</g></g>
<clipPath id="clip01"><rect x="0" y="0" width="50" height="50"/></clipPath>
<g transform="translate(78.3,266.4) scale(0.9880,0.9840)" clip-path="url(#clip01)">
<rect width="50" height="50" fill="#cfcecf"/><circle cx="6" cy="5.5" r="4.5" fill="none" stroke="#c2c2c2" stroke-width="1.2" opacity="0.5"/>
<g filter="url(#tex)">

      <polygon points="2,0 50,0 50,50 16.5,50 12,40 8,30 5,20 3,10" fill="#cbbad5" />
      <path d="M2,0 L3,10 L5,20 L8,30 L12,40 L16.5,50" fill="none" stroke="#d68ab2" stroke-width="1.0" stroke-linecap="round" stroke-linejoin="round" />
      <path d="M5,2.5 L34,1.5" fill="none" stroke="#8565a8" stroke-width="3.5" stroke-linecap="round" stroke-linejoin="round" />
      <path d="M5.5,2.5 L8,2.5" fill="none" stroke="#3f2a6a" stroke-width="3.5" stroke-linecap="round" stroke-linejoin="round" />
      <path d="M10,10 L30,7 M14,12 L36,10" fill="none" stroke="#a88cc0" stroke-width="1.8" stroke-linecap="round" stroke-linejoin="round" />
      <path d="M9,17.5 C12,16 16,15 19,15" fill="none" stroke="#56388a" stroke-width="4" stroke-linecap="round" stroke-linejoin="round" />
      <path d="M15,24 C20,23 25,22 30,21" fill="none" stroke="#5e3f90" stroke-width="3.6" stroke-linecap="round" stroke-linejoin="round" />
      <path d="M14.5,32 C19,30.5 24,29.5 29,28" fill="none" stroke="#56388a" stroke-width="4" stroke-linecap="round" stroke-linejoin="round" />
      <path d="M20.5,43 C23,41 27,39 30,38" fill="none" stroke="#56388a" stroke-width="4" stroke-linecap="round" stroke-linejoin="round" />
      <path d="M20,37 C25,35 30,34 35,33" fill="none" stroke="#a184bd" stroke-width="1.6" stroke-linecap="round" stroke-linejoin="round" />
      <path d="M37.5,0 C37.5,8 38.5,16 40,24 C41,30 39.5,38 40,50" fill="none" stroke="#dedae2" stroke-width="1.8" stroke-linecap="round" stroke-linejoin="round" />
      <path d="M46.5,0 C48,3 49.5,6 50,9" fill="none" stroke="#5a3b8c" stroke-width="2.5" stroke-linecap="round" stroke-linejoin="round" />
      <path d="M42,8 L49,18 M42,28 L50,36 M43,40 L50,46" fill="none" stroke="#a080bc" stroke-width="1.6" stroke-linecap="round" stroke-linejoin="round" />
    
</g></g>
<clipPath id="clip02"><rect x="0" y="0" width="50" height="50"/></clipPath>
<g transform="translate(129.3,266.4) scale(0.9880,0.9840)" clip-path="url(#clip02)">
<rect width="50" height="50" fill="#cfcecf"/><circle cx="6" cy="5.5" r="4.5" fill="none" stroke="#c2c2c2" stroke-width="1.2" opacity="0.5"/>
<g filter="url(#tex)">

      <polygon points="0,17 4,14 8,14 12,16 16,18 20,20 26,21 30,19 34,16 38,13 41,5 45,5 46,10 50,9 50,37 44,37.5 38,38 30,40 24,41 18,42 10,42.5 4,43 0,44" fill="#bcaacb" />
      <path d="M3,38 L3,17 M7.5,38 L7.5,16 M12,37 L12.5,18 M16.5,37 L17,20 M22,37 L22,22 M27,36 L27.5,22 M31.5,35 L32,20 M36,35 L36.5,17 M41.5,34 L42,7 M46.5,34 L47.5,11" fill="none" stroke="#5c4290" stroke-width="3.6" stroke-linecap="round" stroke-linejoin="round" />
      <path d="M3,36 L3,19 M7.5,36 L7.5,18 M12,35 L12.5,20 M16.5,35 L17,22 M22,35 L22,24 M27,34 L27.5,24 M31.5,33 L32,22 M36,33 L36.5,19 M41.5,32 L42,9 M46.5,32 L47.5,13" fill="none" stroke="#b8a6cc" stroke-width="1.3" stroke-linecap="round" stroke-linejoin="round" />
      <polygon points="0,44.5 10,43.5 20,43 28,41.5 34,39.5 40,38.5 46,38.5 50,38 50,48 30,49 0,50" fill="#e4b4c8" />
      <path d="M0,44 C8,42.8 18,42.8 28,40.6 C35,38.8 42,38.4 50,37.6" fill="none" stroke="#d8d6da" stroke-width="1.5" stroke-linecap="round" stroke-linejoin="round" />
      <path d="M9,4 L12,6 M14,8 L16,9.5 M25,5 L28,11 M27,7 L30,6 M36,1.5 L40,2.5 M20,12 L22,13" fill="none" stroke="#7e62a8" stroke-width="1.8" stroke-linecap="round" stroke-linejoin="round" />
    
</g></g>
<clipPath id="clip03"><rect x="0" y="0" width="50" height="50"/></clipPath>
<g transform="translate(180.4,266.4) scale(0.9880,0.9840)" clip-path="url(#clip03)">
<rect width="50" height="50" fill="#cfcecf"/><circle cx="6" cy="5.5" r="4.5" fill="none" stroke="#c2c2c2" stroke-width="1.2" opacity="0.5"/>
<g filter="url(#tex)">

      <polygon points="11,0 50,0 50,50 21.5,50 19,38 16,22 13,8" fill="#ad93c0" />
      <path d="M11.5,0 L14,12 L17,26 L19.5,38 L21.5,50" fill="none" stroke="#d9709f" stroke-width="2.6" stroke-linecap="round" stroke-linejoin="round" />
      <polygon points="36,7 42,5.5 49,8 46,13 42,20 39,27 37,20" fill="#cfcdd2" />
      <path d="M17,3.5 C24,5 30,6.5 35,7 M17,11 C23,12 28,13 33,13 M18,18 C24,18.5 30,18 36,19 M19,25 C24,24.5 30,24.5 37,24 M20,31.5 C26,31 31,31 37,31 M21,38 C26,37.5 32,37.5 38,37.5 M22,44 C28,43.5 32,43.5 38,44.5" fill="none" stroke="#5a3d88" stroke-width="2.4" stroke-linecap="round" stroke-linejoin="round" />
      <path d="M50,10 C44,14 41.5,22 41.5,32 C41.5,40 44,46 48,50" fill="none" stroke="#5a3d88" stroke-width="3" stroke-linecap="round" stroke-linejoin="round" />
      <path d="M46,19 L50,20 M45,27 L50,28 M45,35 L50,36 M46,42 L50,44" fill="none" stroke="#6a4a9a" stroke-width="2" stroke-linecap="round" stroke-linejoin="round" />
      <path d="M24,1 L50,2" fill="none" stroke="#7a58a6" stroke-width="2.5" stroke-linecap="round" stroke-linejoin="round" />
    
</g></g>
<clipPath id="clip10"><rect x="0" y="0" width="50" height="50"/></clipPath>
<g transform="translate(27.4,316.9) scale(0.9880,0.9840)" clip-path="url(#clip10)">
<rect width="50" height="50" fill="#cfcecf"/><circle cx="5.5" cy="4" r="2" fill="#333" opacity="0.7"/>
<g filter="url(#tex)">

      <polygon points="16,0 43,0 43,50 13,50 14,40 13,28 15,14" fill="#b8a9c8" />
      <polygon points="42,0 50,0 50,50 42,50" fill="#d690b8" />
      <path d="M38,4 L18,4 M38,12.5 L17,12.5 M38,21 L16,21 M38,29.5 L15.5,29.5 M38,38 L15.5,38 M38,46.5 L16,46.5" fill="none" stroke="#563c8a" stroke-width="5.8" stroke-linecap="round" stroke-linejoin="round" /><path d="M38,4 L18,4 M38,12.5 L17,12.5 M38,21 L16,21 M38,29.5 L15.5,29.5 M38,38 L15.5,38 M38,46.5 L16,46.5" fill="none" stroke="#a08cbc" stroke-width="1.6" stroke-linecap="round" stroke-linejoin="round" />
      <path d="M41,0 L41,50" fill="none" stroke="#c8b8d4" stroke-width="2" stroke-linecap="round" stroke-linejoin="round" />
      <path d="M8.5,9.5 L13,11 L10.5,14 L13,15.5" fill="none" stroke="#a0609a" stroke-width="2.8" stroke-linecap="round" stroke-linejoin="round" />
      <path d="M2.5,30 L9,31.5 L12,35 L7,38 L3,42 L8,44.5 L5,47.5" fill="none" stroke="#9c6298" stroke-width="3.4" stroke-linecap="round" stroke-linejoin="round" />
      <path d="M1,0 L1.5,14" fill="none" stroke="#8c6aac" stroke-width="2" stroke-linecap="round" stroke-linejoin="round" />
      <path d="M44,5 L45,9 M47,14 L46,19 M44,26 L45,31 M48,36 L47,41 M45,45 L46,49" fill="none" stroke="#9a68b0" stroke-width="1.3" stroke-linecap="round" stroke-linejoin="round" />
    
</g></g>
<clipPath id="clip11"><rect x="0" y="0" width="50" height="50"/></clipPath>
<g transform="translate(78.3,316.9) scale(0.9880,0.9840)" clip-path="url(#clip11)">
<rect width="50" height="50" fill="#cfcecf"/><circle cx="6" cy="5.5" r="4.5" fill="none" stroke="#c2c2c2" stroke-width="1.2" opacity="0.5"/>
<g filter="url(#tex)">

      <polygon points="0,0 22,0 23,7 33,6 34,10 33,17 38,21 42,26 48,29 50,31 50,50 38,50 29,46 20,39 10,31 0,22" fill="#c2b4d0" />
      <polygon points="0,18 9,26 19,34 29,42 37,48 39,50 32,50 21,43 10,34 0,25" fill="#dea6c6" />
      <path d="M1,4 L11,2 M2,11 L15,6 M5,17 L18,11 M9,22 L21,14 M15,28 L28,9 M21,33 L33,17 M26,38 L37,22 M30,42 L42,26 M35,46 L46,30 M40,49 L50,34" fill="none" stroke="#553a88" stroke-width="4.8" stroke-linecap="round" stroke-linejoin="round" /><path d="M1,4 L11,2 M2,11 L15,6 M5,17 L18,11 M9,22 L21,14 M15,28 L28,9 M21,33 L33,17 M26,38 L37,22 M30,42 L42,26 M35,46 L46,30 M40,49 L50,34" fill="none" stroke="#a08cbc" stroke-width="1.3" stroke-linecap="round" stroke-linejoin="round" />
    
</g></g>
<clipPath id="clip12"><rect x="0" y="0" width="50" height="50"/></clipPath>
<g transform="translate(129.3,316.9) scale(0.9880,0.9840)" clip-path="url(#clip12)">
<rect width="50" height="50" fill="#cfcecf"/><circle cx="6" cy="5.5" r="4.5" fill="none" stroke="#c2c2c2" stroke-width="1.2" opacity="0.5"/>
<g filter="url(#tex)">

      <polygon points="0,0 25,0 24,9 18,10 13,11 7,11 0,10" fill="#c0b2ce" />
      <path d="M2.5,0 L3,8 M8.5,0 L9,9 M14.5,0 L15,8 M20.5,0 L21,7" fill="none" stroke="#553a88" stroke-width="4.4" stroke-linecap="round" stroke-linejoin="round" /><path d="M2.5,0 L3,8 M8.5,0 L9,9 M14.5,0 L15,8 M20.5,0 L21,7" fill="none" stroke="#a08cbc" stroke-width="1.1" stroke-linecap="round" stroke-linejoin="round" />
      <polygon points="0,22 5,18 10,19 16,13 22,13 27,14 32,10 38,6 43,7 48,5 50,5 50,28 42,30 34,33 26,37 18,40 10,44 0,48" fill="#c6b8d2" />
      <path d="M2,44 L1.5,23 M6.5,42 L6.5,19 M11,40 L11,22 M16,38 L17.5,15 M21,36 L22.5,15 M26,34 L27.5,16 M31,31 L33,12 M36.5,29 L39,8 M41.5,28 L43.5,9 M46.5,27 L48,7" fill="none" stroke="#553a88" stroke-width="4.2" stroke-linecap="round" stroke-linejoin="round" /><path d="M2,44 L1.5,23 M6.5,42 L6.5,19 M11,40 L11,22 M16,38 L17.5,15 M21,36 L22.5,15 M26,34 L27.5,16 M31,31 L33,12 M36.5,29 L39,8 M41.5,28 L43.5,9 M46.5,27 L48,7" fill="none" stroke="#a08cbc" stroke-width="1.1" stroke-linecap="round" stroke-linejoin="round" />
      <polygon points="0,47 10,43 20,39 30,35 38,32 45,30 46,31 38,35 28,40 18,45 10,49 6,50 0,50" fill="#dc9ac0" />
    
</g></g>
<clipPath id="clip13"><rect x="0" y="0" width="50" height="50"/></clipPath>
<g transform="translate(180.4,316.9) scale(0.9880,0.9840)" clip-path="url(#clip13)">
<rect width="50" height="50" fill="#cfcecf"/><circle cx="4.5" cy="4" r="2" fill="#333" opacity="0.7"/>
<g filter="url(#tex)">

      <polygon points="16,8 50,0 50,50 14,50 12,44 16,38 22,36 20,28 18,22 18,15" fill="#b4a4c6" />
      <polygon points="0,0 42,0 42,8 18,10 8,8 0,8" fill="#7458a2" />
      <polygon points="0,29 8,25 16,20 19,24 21,30 16,34 10,36 4,40 0,41" fill="#8462a6" />
      <polygon points="12,44 18,38 24,37 26,44 22,50 14,50" fill="#9a7ab4" />
      <path d="M21,12 L41,9.5 M21,19.5 L41,17 M25,25.5 L43,23 M27,34 L45,30 M26,43 L44,39" fill="none" stroke="#563c8a" stroke-width="6.2" stroke-linecap="round" stroke-linejoin="round" /><path d="M21,12 L41,9.5 M21,19.5 L41,17 M25,25.5 L43,23 M27,34 L45,30 M26,43 L44,39" fill="none" stroke="#a08cbc" stroke-width="1.8" stroke-linecap="round" stroke-linejoin="round" />
      <path d="M45,8 L46,12 M46,18 L47,22 M47,44 L48,48" fill="none" stroke="#6a4a9a" stroke-width="2" stroke-linecap="round" stroke-linejoin="round" />
      <path d="M3,36 L12,31" fill="none" stroke="#5e3f90" stroke-width="2.2" stroke-linecap="round" stroke-linejoin="round" />
      <path d="M48.8,0 L49.2,50" fill="none" stroke="#d98ab4" stroke-width="2.4" stroke-linecap="round" stroke-linejoin="round" />
    
</g></g>
<filter id="sb" x="-0.2" y="-0.2" width="1.4" height="1.4"><feGaussianBlur stdDeviation="2.2"/></filter>
<clipPath id="clip20"><rect x="0" y="0" width="50" height="50"/></clipPath>
<g transform="translate(27.4,368.2) scale(0.9880,0.9840)" clip-path="url(#clip20)">

<g filter="url(#texl)">
<rect width="50" height="50" fill="#c07eb7"/>
      <circle cx="6" cy="5" r="5" fill="#8a5a9e" opacity="0.45" filter="url(#sb)"/>
      <path d="M29,21.5 L30,29.5" fill="none" stroke="#f6f2f6" stroke-width="2.4" stroke-linecap="round" stroke-linejoin="round" /><path d="M2.6,26 L3,30" fill="none" stroke="#f2ecf4" stroke-width="1.8" stroke-linecap="round" stroke-linejoin="round" />
    
</g></g>
<clipPath id="clip21"><rect x="0" y="0" width="50" height="50"/></clipPath>
<g transform="translate(78.3,368.2) scale(0.9880,0.9840)" clip-path="url(#clip21)">

<g filter="url(#texl)">
<rect width="50" height="50" fill="#c66dad"/>
      <polygon points="50,37 50,50 35,50 39,46 44,41" fill="#d4d2d6" />
      <circle cx="6" cy="6" r="5" fill="#a88aad" opacity="0.4" filter="url(#sb)"/>
      <path d="M0,22 L12,30" fill="none" stroke="#9a7cc0" stroke-width="4" stroke-linecap="round" stroke-linejoin="round" opacity="0.5" filter="url(#sb)"/>
    
</g></g>
<clipPath id="clip22"><rect x="0" y="0" width="50" height="50"/></clipPath>
<g transform="translate(129.3,368.2) scale(0.9880,0.9840)" clip-path="url(#clip22)">

<g filter="url(#texl)">
<rect width="50" height="50" fill="#b898c8"/>
      <polygon points="0,0 22,0 18,10 12,20 4,30 0,32" fill="#9a68ac" filter="url(#sb)"/>
      <polygon points="0,32 5,29 8,36 6,46 0,48" fill="#dedae2" />
      <polygon points="20,0 26,0 24,10 21,8" fill="#e2dce6" />
      <polygon points="8,27 16,25 18,33 14,41 10,37" fill="#d6cade" />
      <polygon points="28,28 50,24 50,50 28,50" fill="#c2609f" filter="url(#sb)" opacity="0.85"/>
      <path d="M44,2 C46,6 48,10 48,16" fill="none" stroke="#ece6f0" stroke-width="2" stroke-linecap="round" stroke-linejoin="round" />
      <path d="M20,40 L28,48 M14,42 L20,50 M24,18 L32,10" fill="none" stroke="#d8cce0" stroke-width="1.6" stroke-linecap="round" stroke-linejoin="round" />
    
</g></g>
<clipPath id="clip23"><rect x="0" y="0" width="50" height="50"/></clipPath>
<g transform="translate(180.4,368.2) scale(0.9880,0.9840)" clip-path="url(#clip23)">

<g filter="url(#texl)">
<rect width="50" height="50" fill="#bc74b2"/>
      <path d="M30,11 L27,22" fill="none" stroke="#f6f2f6" stroke-width="2.6" stroke-linecap="round" stroke-linejoin="round" />
      <path d="M30,5 L26,32" fill="none" stroke="#d8c8e0" stroke-width="1.3" stroke-linecap="round" stroke-linejoin="round" />
      <circle cx="6" cy="6" r="5" fill="#8a5a9e" opacity="0.45" filter="url(#sb)"/>
    
</g></g>
<clipPath id="clip30"><rect x="0" y="0" width="50" height="50"/></clipPath>
<g transform="translate(27.4,419.5) scale(0.9880,0.9840)" clip-path="url(#clip30)">
<rect width="50" height="50" fill="#cfcecf"/><circle cx="6" cy="5.5" r="4.5" fill="none" stroke="#c2c2c2" stroke-width="1.2" opacity="0.5"/>
<g filter="url(#texs)">

      <polygon points="36,0 50,0 50,10 48,14 44,28 40,40 38,50 4,50 8,40 14,30 22,20 30,10" fill="#ebc6d4" />
      <path d="M48.5,12 L44,28 L40,40 L38,49" fill="none" stroke="#8a64b2" stroke-width="1.4" stroke-linecap="round" stroke-linejoin="round" />
      <path d="M16.5,1 L19.5,0 M18.5,15 L25,9 L27,4" fill="none" stroke="#d4608f" stroke-width="1.8" stroke-linecap="round" stroke-linejoin="round" />
      <path d="M7,44 L15,32 M10,47 L19,34 M14,38 L22,26" fill="none" stroke="#b08ac4" stroke-width="1.1" stroke-linecap="round" stroke-linejoin="round" />
      <path d="M30,37 L33,35 M34,33 L36,29 M22,48 L25,46 M32,42 L34,40" fill="none" stroke="#7a4c9a" stroke-width="2.0" stroke-linecap="round" stroke-linejoin="round" />
      <path d="M40,18 L43,22" fill="none" stroke="#f4ecf0" stroke-width="1.5" stroke-linecap="round" stroke-linejoin="round" />
    
</g></g>
<clipPath id="clip31"><rect x="0" y="0" width="50" height="50"/></clipPath>
<g transform="translate(78.3,419.5) scale(0.9880,0.9840)" clip-path="url(#clip31)">
<rect width="50" height="50" fill="#cfcecf"/><circle cx="6" cy="5.5" r="4.5" fill="none" stroke="#c2c2c2" stroke-width="1.2" opacity="0.5"/>
<g filter="url(#texs)">

      <polygon points="23,0 50,0 50,12 47,50 0,50 2,45 5,40 8,36 13,32 17,28 15,25 15,18 13,13 15,8 20,3" fill="#ebc6d4" />
      <polygon points="36,0 50,0 50,12 47,50 36,50 40,30" fill="#e2d2e0" />
      <path d="M23,0 L20,3 L15,8 L13,13 L15,18 L15,25 L17,28 L13,32 L8,36 L5,40 L2,45 L0,48" fill="none" stroke="#8a5fae" stroke-width="1.5" stroke-linecap="round" stroke-linejoin="round" />
      <path d="M42,4 L36,50 M46,4 L41,50 M49,10 L45,50" fill="none" stroke="#c0a0d0" stroke-width="1.1" stroke-linecap="round" stroke-linejoin="round" />
      <path d="M25,25 C27,23 31,23 33,25" fill="none" stroke="#5e2e80" stroke-width="2.6" stroke-linecap="round" stroke-linejoin="round" />
      <path d="M3,21 L7,19.5 M10,7 L13,6" fill="none" stroke="#d880b0" stroke-width="1.4" stroke-linecap="round" stroke-linejoin="round" />
    
</g></g>
<clipPath id="clip32"><rect x="0" y="0" width="50" height="50"/></clipPath>
<g transform="translate(129.3,419.5) scale(0.9880,0.9840)" clip-path="url(#clip32)">
<rect width="50" height="50" fill="#cfcecf"/><circle cx="6" cy="5.5" r="4.5" fill="none" stroke="#c2c2c2" stroke-width="1.2" opacity="0.5"/>
<g filter="url(#texs)">

      <polygon points="27,0 46,0 40,20 34,38 30,50 2,50 10,36 16,24 22,12" fill="#ebc6d4" />
      <path d="M27,0 L22,12 L16,24 L10,36 L2,50" fill="none" stroke="#76489e" stroke-width="1.4" stroke-linecap="round" stroke-linejoin="round" />
      <path d="M45,0 L40,20 L34,38 L30,50" fill="none" stroke="#c8a8d8" stroke-width="1.5" stroke-linecap="round" stroke-linejoin="round" />
      <path d="M31,40 L26,50" fill="none" stroke="#b83a6a" stroke-width="1.6" stroke-linecap="round" stroke-linejoin="round" />
      <path d="M17,12 L20,14 M20,5 L22,8" fill="none" stroke="#d07aa8" stroke-width="1.2" stroke-linecap="round" stroke-linejoin="round" />
    
</g></g>
<clipPath id="clip33"><rect x="0" y="0" width="50" height="50"/></clipPath>
<g transform="translate(180.4,419.5) scale(0.9880,0.9840)" clip-path="url(#clip33)">
<rect width="50" height="50" fill="#cfcecf"/><circle cx="6" cy="5.5" r="4.5" fill="none" stroke="#c2c2c2" stroke-width="1.2" opacity="0.5"/>
<g filter="url(#texs)">

      <polygon points="12,0 50,0 50,5 44,20 38,34 32,50 0,50 0,42 6,26 10,10" fill="#ebc6d4" />
      <path d="M12,0 L10,10 L6,26 L2,40 L0,42" fill="none" stroke="#653894" stroke-width="1.7" stroke-linecap="round" stroke-linejoin="round" />
      <polygon points="28,0 50,0 50,5 44,20 36,36 30,50 24,50 27,30" fill="#dccae0" />
      <path d="M15,12 C17,14 17,20 14,24" fill="none" stroke="#5e2e80" stroke-width="2.2" stroke-linecap="round" stroke-linejoin="round" />
      <path d="M38,14 C40,15 41,17 40,18" fill="none" stroke="#7a2a6a" stroke-width="2.2" stroke-linecap="round" stroke-linejoin="round" />
      <path d="M29,38 L32,42 M28,44 L30,48" fill="none" stroke="#cc5070" stroke-width="2.4" stroke-linecap="round" stroke-linejoin="round" />
    
</g></g>
<text x="244.80" y="258.60" font-size="11.5" text-anchor="start" font-weight="bold" fill="#000"  style="stroke:none">F</text>
<rect x="326.90" y="248.75" width="8.80" height="5.10" fill="#532570" />
<text x="338.90" y="253.20" font-size="5.45" text-anchor="start" font-weight="normal" fill="#1a1a1a"  style="stroke-width:0.1px">TCD-BM+T (<tspan font-style="italic">n</tspan>=10)</text>
<rect x="326.90" y="260.30" width="8.80" height="5.10" fill="#2b4a87" />
<text x="338.90" y="264.75" font-size="5.45" text-anchor="start" font-weight="normal" fill="#1a1a1a"  style="stroke-width:0.1px">TCD-BM+T+DMB (<tspan font-style="italic">n</tspan>=10)</text>
<rect x="326.90" y="271.80" width="8.80" height="5.10" fill="#a8002d" />
<text x="338.90" y="276.25" font-size="5.45" text-anchor="start" font-weight="normal" fill="#1a1a1a"  style="stroke-width:0.1px">TCD-BM+T+Choline (<tspan font-style="italic">n</tspan>=10)</text>
<rect x="326.90" y="283.40" width="8.80" height="5.10" fill="#3a6a50" />
<text x="338.90" y="287.85" font-size="5.45" text-anchor="start" font-weight="normal" fill="#1a1a1a"  style="stroke-width:0.1px">TCD-BM+T+Choline+DMB (<tspan font-style="italic">n</tspan>=10)</text>
<g stroke="#555" stroke-width="1.7" fill="none">
<path d="M277.00,305.00 V367.50 H365.75"/>
<path d="M274.50,367.50 H277.00"/>
<path d="M274.50,352.38 H277.00"/>
<path d="M274.50,337.25 H277.00"/>
<path d="M274.50,322.12 H277.00"/>
<path d="M274.50,307.00 H277.00"/>
<path d="M287.75,367.50 v2.50"/>
<path d="M310.38,367.50 v2.50"/>
<path d="M332.88,367.50 v2.50"/>
<path d="M355.38,367.50 v2.50"/>
</g>
<text transform="translate(271.00,367.50) rotate(-90)" font-size="6.0" text-anchor="middle" fill="#1a1a1a">0</text>
<text transform="translate(271.00,352.38) rotate(-90)" font-size="6.0" text-anchor="middle" fill="#1a1a1a">2</text>
<text transform="translate(271.00,337.25) rotate(-90)" font-size="6.0" text-anchor="middle" fill="#1a1a1a">4</text>
<text transform="translate(271.00,322.12) rotate(-90)" font-size="6.0" text-anchor="middle" fill="#1a1a1a">6</text>
<text transform="translate(271.00,307.00) rotate(-90)" font-size="6.0" text-anchor="middle" fill="#1a1a1a">8</text>
<rect x="280.00" y="338.01" width="15.50" height="29.49" fill="#532570" stroke="#333" stroke-width="0.4"/>
<line x1="287.75" y1="338.01" x2="287.75" y2="333.47" stroke="#333" stroke-width="1.0" />
<line x1="284.15" y1="333.47" x2="291.35" y2="333.47" stroke="#333" stroke-width="1.0" />
<rect x="302.50" y="338.01" width="15.75" height="29.49" fill="#2b4a87" stroke="#333" stroke-width="0.4"/>
<line x1="310.38" y1="338.01" x2="310.38" y2="332.33" stroke="#333" stroke-width="1.0" />
<line x1="306.77" y1="332.33" x2="313.98" y2="332.33" stroke="#333" stroke-width="1.0" />
<rect x="325.00" y="322.88" width="15.75" height="44.62" fill="#a8002d" stroke="#333" stroke-width="0.4"/>
<line x1="332.88" y1="322.88" x2="332.88" y2="312.29" stroke="#333" stroke-width="1.0" />
<line x1="329.27" y1="312.29" x2="336.48" y2="312.29" stroke="#333" stroke-width="1.0" />
<rect x="347.50" y="336.12" width="15.75" height="31.38" fill="#3a6a50" stroke="#333" stroke-width="0.4"/>
<line x1="355.38" y1="336.12" x2="355.38" y2="326.66" stroke="#333" stroke-width="1.0" />
<line x1="351.77" y1="326.66" x2="358.98" y2="326.66" stroke="#333" stroke-width="1.0" />
<line x1="290.75" y1="309.50" x2="330.50" y2="309.50" stroke="#555" stroke-width="0.9" />
<text x="310.62" y="307.90" font-size="5.3" text-anchor="middle" font-weight="normal" fill="#333"  style="stroke-width:0.1px">**</text>
<line x1="335.75" y1="309.50" x2="355.75" y2="309.50" stroke="#555" stroke-width="0.9" />
<text x="345.75" y="307.90" font-size="5.3" text-anchor="middle" font-weight="normal" fill="#333"  style="stroke-width:0.1px">**</text>
<text transform="translate(251.40,336.25) rotate(-90) scale(0.845,1)" font-size="7.8" text-anchor="middle" fill="#1a1a1a">Histological score</text>
<text transform="translate(262.00,336.25) rotate(-90) scale(0.845,1)" font-size="7.8" text-anchor="middle" fill="#1a1a1a">for the ileum</text>
<g stroke="#555" stroke-width="1.7" fill="none">
<path d="M413.75,308.00 V367.50 H502.50"/>
<path d="M411.25,367.50 H413.75"/>
<path d="M411.25,353.12 H413.75"/>
<path d="M411.25,338.75 H413.75"/>
<path d="M411.25,324.38 H413.75"/>
<path d="M411.25,310.00 H413.75"/>
<path d="M424.75,367.50 v2.50"/>
<path d="M447.25,367.50 v2.50"/>
<path d="M469.75,367.50 v2.50"/>
<path d="M492.25,367.50 v2.50"/>
</g>
<text x="409.95" y="369.80" font-size="6.0" text-anchor="end" font-weight="normal" fill="#1a1a1a" >0</text>
<text x="409.95" y="355.43" font-size="6.0" text-anchor="end" font-weight="normal" fill="#1a1a1a" >2</text>
<text x="409.95" y="341.05" font-size="6.0" text-anchor="end" font-weight="normal" fill="#1a1a1a" >4</text>
<text x="409.95" y="326.68" font-size="6.0" text-anchor="end" font-weight="normal" fill="#1a1a1a" >6</text>
<text x="409.95" y="312.30" font-size="6.0" text-anchor="end" font-weight="normal" fill="#1a1a1a" >8</text>
<rect x="417.00" y="338.03" width="15.50" height="29.47" fill="#532570" stroke="#333" stroke-width="0.4"/>
<line x1="424.75" y1="338.03" x2="424.75" y2="332.64" stroke="#333" stroke-width="1.0" />
<line x1="421.15" y1="332.64" x2="428.35" y2="332.64" stroke="#333" stroke-width="1.0" />
<rect x="439.50" y="339.04" width="15.50" height="28.46" fill="#2b4a87" stroke="#333" stroke-width="0.4"/>
<line x1="447.25" y1="339.04" x2="447.25" y2="331.06" stroke="#333" stroke-width="1.0" />
<line x1="443.65" y1="331.06" x2="450.85" y2="331.06" stroke="#333" stroke-width="1.0" />
<rect x="462.00" y="322.00" width="15.50" height="45.50" fill="#a8002d" stroke="#333" stroke-width="0.4"/>
<line x1="469.75" y1="322.00" x2="469.75" y2="316.25" stroke="#333" stroke-width="1.0" />
<line x1="466.15" y1="316.25" x2="473.35" y2="316.25" stroke="#333" stroke-width="1.0" />
<rect x="484.50" y="337.02" width="15.50" height="30.48" fill="#3a6a50" stroke="#333" stroke-width="0.4"/>
<line x1="492.25" y1="337.02" x2="492.25" y2="328.04" stroke="#333" stroke-width="1.0" />
<line x1="488.65" y1="328.04" x2="495.85" y2="328.04" stroke="#333" stroke-width="1.0" />
<line x1="427.50" y1="313.50" x2="467.50" y2="313.50" stroke="#555" stroke-width="0.9" />
<text x="447.50" y="311.90" font-size="5.3" text-anchor="middle" font-weight="normal" fill="#333"  style="stroke-width:0.1px">**</text>
<line x1="472.50" y1="313.50" x2="493.00" y2="313.50" stroke="#555" stroke-width="0.9" />
<text x="482.75" y="311.90" font-size="5.3" text-anchor="middle" font-weight="normal" fill="#333"  style="stroke-width:0.1px">**</text>
<text transform="translate(388.15,337.75) rotate(-90) scale(0.845,1)" font-size="7.8" text-anchor="middle" fill="#1a1a1a">Histological score</text>
<text transform="translate(398.75,337.75) rotate(-90) scale(0.845,1)" font-size="7.8" text-anchor="middle" fill="#1a1a1a">for the colon</text>
<g stroke="#555" stroke-width="1.7" fill="none">
<path d="M277.00,387.50 V448.00 H365.75"/>
<path d="M274.50,448.00 H277.00"/>
<path d="M274.50,433.38 H277.00"/>
<path d="M274.50,418.75 H277.00"/>
<path d="M274.50,404.12 H277.00"/>
<path d="M274.50,389.50 H277.00"/>
<path d="M287.75,448.00 v2.50"/>
<path d="M310.38,448.00 v2.50"/>
<path d="M332.88,448.00 v2.50"/>
<path d="M355.38,448.00 v2.50"/>
</g>
<text transform="translate(271.00,448.00) rotate(-90)" font-size="6.0" text-anchor="middle" fill="#1a1a1a">0</text>
<text transform="translate(271.00,433.38) rotate(-90)" font-size="6.0" text-anchor="middle" fill="#1a1a1a">2</text>
<text transform="translate(271.00,418.75) rotate(-90)" font-size="6.0" text-anchor="middle" fill="#1a1a1a">4</text>
<text transform="translate(271.00,404.12) rotate(-90)" font-size="6.0" text-anchor="middle" fill="#1a1a1a">6</text>
<text transform="translate(271.00,389.50) rotate(-90)" font-size="6.0" text-anchor="middle" fill="#1a1a1a">8</text>
<rect x="280.00" y="419.26" width="15.50" height="28.74" fill="#532570" stroke="#333" stroke-width="0.4"/>
<line x1="287.75" y1="419.26" x2="287.75" y2="411.22" stroke="#333" stroke-width="1.0" />
<line x1="284.15" y1="411.22" x2="291.35" y2="411.22" stroke="#333" stroke-width="1.0" />
<rect x="302.50" y="421.53" width="15.75" height="26.47" fill="#2b4a87" stroke="#333" stroke-width="0.4"/>
<line x1="310.38" y1="421.53" x2="310.38" y2="414.51" stroke="#333" stroke-width="1.0" />
<line x1="306.77" y1="414.51" x2="313.98" y2="414.51" stroke="#333" stroke-width="1.0" />
<rect x="325.00" y="406.76" width="15.75" height="41.24" fill="#a8002d" stroke="#333" stroke-width="0.4"/>
<line x1="332.88" y1="406.76" x2="332.88" y2="397.54" stroke="#333" stroke-width="1.0" />
<line x1="329.27" y1="397.54" x2="336.48" y2="397.54" stroke="#333" stroke-width="1.0" />
<rect x="347.50" y="417.00" width="15.75" height="31.00" fill="#3a6a50" stroke="#333" stroke-width="0.4"/>
<line x1="355.38" y1="417.00" x2="355.38" y2="409.54" stroke="#333" stroke-width="1.0" />
<line x1="351.77" y1="409.54" x2="358.98" y2="409.54" stroke="#333" stroke-width="1.0" />
<line x1="290.75" y1="395.50" x2="330.50" y2="395.50" stroke="#555" stroke-width="0.9" />
<text x="310.62" y="393.90" font-size="5.3" text-anchor="middle" font-weight="normal" fill="#333"  style="stroke-width:0.1px">**</text>
<line x1="335.75" y1="395.50" x2="355.75" y2="395.50" stroke="#555" stroke-width="0.9" />
<text x="345.75" y="393.90" font-size="5.3" text-anchor="middle" font-weight="normal" fill="#333"  style="stroke-width:0.1px">*</text>
<text transform="translate(251.40,417.75) rotate(-90) scale(0.845,1)" font-size="7.8" text-anchor="middle" fill="#1a1a1a">Histological score</text>
<text transform="translate(262.00,417.75) rotate(-90) scale(0.845,1)" font-size="7.8" text-anchor="middle" fill="#1a1a1a">for the liver</text>
<g stroke="#555" stroke-width="1.7" fill="none">
<path d="M413.75,386.75 V448.00 H502.50"/>
<path d="M411.25,448.00 H413.75"/>
<path d="M411.25,433.19 H413.75"/>
<path d="M411.25,418.38 H413.75"/>
<path d="M411.25,403.56 H413.75"/>
<path d="M411.25,388.75 H413.75"/>
<path d="M424.75,448.00 v2.50"/>
<path d="M447.25,448.00 v2.50"/>
<path d="M469.75,448.00 v2.50"/>
<path d="M492.25,448.00 v2.50"/>
</g>
<text transform="translate(407.75,448.00) rotate(-90)" font-size="6.0" text-anchor="middle" fill="#1a1a1a">0</text>
<text transform="translate(407.75,433.19) rotate(-90)" font-size="6.0" text-anchor="middle" fill="#1a1a1a">2</text>
<text transform="translate(407.75,418.38) rotate(-90)" font-size="6.0" text-anchor="middle" fill="#1a1a1a">4</text>
<text transform="translate(407.75,403.56) rotate(-90)" font-size="6.0" text-anchor="middle" fill="#1a1a1a">6</text>
<text transform="translate(407.75,388.75) rotate(-90)" font-size="6.0" text-anchor="middle" fill="#1a1a1a">8</text>
<rect x="417.00" y="420.00" width="15.50" height="28.00" fill="#532570" stroke="#333" stroke-width="0.4"/>
<line x1="424.75" y1="420.00" x2="424.75" y2="411.26" stroke="#333" stroke-width="1.0" />
<line x1="421.15" y1="411.26" x2="428.35" y2="411.26" stroke="#333" stroke-width="1.0" />
<rect x="439.50" y="418.00" width="15.50" height="30.00" fill="#2b4a87" stroke="#333" stroke-width="0.4"/>
<line x1="447.25" y1="418.00" x2="447.25" y2="412.01" stroke="#333" stroke-width="1.0" />
<line x1="443.65" y1="412.01" x2="450.85" y2="412.01" stroke="#333" stroke-width="1.0" />
<rect x="462.00" y="408.01" width="15.50" height="39.99" fill="#a8002d" stroke="#333" stroke-width="0.4"/>
<line x1="469.75" y1="408.01" x2="469.75" y2="398.30" stroke="#333" stroke-width="1.0" />
<line x1="466.15" y1="398.30" x2="473.35" y2="398.30" stroke="#333" stroke-width="1.0" />
<rect x="484.50" y="418.75" width="15.50" height="29.25" fill="#3a6a50" stroke="#333" stroke-width="0.4"/>
<line x1="492.25" y1="418.75" x2="492.25" y2="411.26" stroke="#333" stroke-width="1.0" />
<line x1="488.65" y1="411.26" x2="495.85" y2="411.26" stroke="#333" stroke-width="1.0" />
<line x1="427.50" y1="395.50" x2="467.50" y2="395.50" stroke="#555" stroke-width="0.9" />
<text x="447.50" y="393.90" font-size="5.3" text-anchor="middle" font-weight="normal" fill="#333"  style="stroke-width:0.1px">**</text>
<line x1="472.50" y1="395.50" x2="493.00" y2="395.50" stroke="#555" stroke-width="0.9" />
<text x="482.75" y="393.90" font-size="5.3" text-anchor="middle" font-weight="normal" fill="#333"  style="stroke-width:0.1px">*</text>
<text transform="translate(388.15,417.38) rotate(-90) scale(0.845,1)" font-size="7.8" text-anchor="middle" fill="#1a1a1a">Histological score</text>
<text transform="translate(398.75,417.38) rotate(-90) scale(0.845,1)" font-size="7.8" text-anchor="middle" fill="#1a1a1a">for the skin</text>
<text x="7.00" y="494.50" font-size="11.5" text-anchor="start" font-weight="bold" fill="#000"  style="stroke:none">G</text>
<g stroke="#222" stroke-width="1.2" fill="none">
<path d="M39.7,497.3 V600.2 H141.0"/>
<path d="M39.70,600.2 v2.2"/>
<path d="M51.61,600.2 v2.2"/>
<path d="M63.53,600.2 v2.2"/>
<path d="M75.44,600.2 v2.2"/>
<path d="M87.35,600.2 v2.2"/>
<path d="M99.26,600.2 v2.2"/>
<path d="M111.17,600.2 v2.2"/>
<path d="M123.09,600.2 v2.2"/>
<path d="M135.00,600.2 v2.2"/>
<path d="M36.300000000000004,600.20 h3.4"/>
<path d="M36.300000000000004,580.92 h3.4"/>
<path d="M36.300000000000004,561.64 h3.4"/>
<path d="M36.300000000000004,542.36 h3.4"/>
<path d="M36.300000000000004,523.08 h3.4"/>
<path d="M36.300000000000004,503.80 h3.4"/>
</g>
<text x="39.70" y="611.80" font-size="6.5" text-anchor="middle" font-weight="normal" fill="#1a1a1a" >0</text>
<text x="63.53" y="611.80" font-size="6.5" text-anchor="middle" font-weight="normal" fill="#1a1a1a" >4000</text>
<text x="87.35" y="611.80" font-size="6.5" text-anchor="middle" font-weight="normal" fill="#1a1a1a" >8000</text>
<text x="111.17" y="611.80" font-size="6.5" text-anchor="middle" font-weight="normal" fill="#1a1a1a" >12000</text>
<text x="135.00" y="611.80" font-size="6.5" text-anchor="middle" font-weight="normal" fill="#1a1a1a" >16000</text>
<text x="34.10" y="602.50" font-size="6.5" text-anchor="end" font-weight="normal" fill="#1a1a1a" >0</text>
<text x="34.10" y="583.22" font-size="6.5" text-anchor="end" font-weight="normal" fill="#1a1a1a" >500</text>
<text x="34.10" y="563.94" font-size="6.5" text-anchor="end" font-weight="normal" fill="#1a1a1a" >1000</text>
<text x="34.10" y="544.66" font-size="6.5" text-anchor="end" font-weight="normal" fill="#1a1a1a" >1500</text>
<text x="34.10" y="525.38" font-size="6.5" text-anchor="end" font-weight="normal" fill="#1a1a1a" >2000</text>
<text x="34.10" y="506.10" font-size="6.5" text-anchor="end" font-weight="normal" fill="#1a1a1a" >2500</text>
<text x="90.8" y="623.0" font-size="7.8" text-anchor="middle" fill="#1a1a1a" transform="translate(90.8,0) scale(0.838,1) translate(-90.8,0)">Sequences per sample</text>
<text transform="translate(13.60,548.40) rotate(-90) scale(0.8216018834382357,1)" font-size="7.8" text-anchor="middle" fill="#1a1a1a">Observed species</text>
<path d="M43.00,592.66 V595.19" stroke="#4a6aa8" stroke-width="0.8"/>
<rect x="42.10" y="594.59" width="1.8" height="1.2" fill="#2a4a8a"/>
<path d="M46.26,587.08 V591.48" stroke="#4a6aa8" stroke-width="0.8"/>
<rect x="45.36" y="590.88" width="1.8" height="1.2" fill="#2a4a8a"/>
<path d="M49.51,582.61 V588.50" stroke="#4a6aa8" stroke-width="0.8"/>
<rect x="48.61" y="587.90" width="1.8" height="1.2" fill="#2a4a8a"/>
<path d="M52.77,578.88 V586.02" stroke="#4a6aa8" stroke-width="0.8"/>
<rect x="51.87" y="585.42" width="1.8" height="1.2" fill="#2a4a8a"/>
<path d="M56.03,575.68 V583.89" stroke="#4a6aa8" stroke-width="0.8"/>
<rect x="55.13" y="583.29" width="1.8" height="1.2" fill="#2a4a8a"/>
<path d="M59.29,572.87 V582.03" stroke="#4a6aa8" stroke-width="0.8"/>
<rect x="58.39" y="581.43" width="1.8" height="1.2" fill="#2a4a8a"/>
<path d="M62.54,570.38 V580.37" stroke="#4a6aa8" stroke-width="0.8"/>
<rect x="61.64" y="579.77" width="1.8" height="1.2" fill="#2a4a8a"/>
<path d="M65.80,568.13 V578.88" stroke="#4a6aa8" stroke-width="0.8"/>
<rect x="64.90" y="578.28" width="1.8" height="1.2" fill="#2a4a8a"/>
<path d="M69.06,566.09 V577.52" stroke="#4a6aa8" stroke-width="0.8"/>
<rect x="68.16" y="576.92" width="1.8" height="1.2" fill="#2a4a8a"/>
<path d="M72.31,564.22 V576.27" stroke="#4a6aa8" stroke-width="0.8"/>
<rect x="71.41" y="575.67" width="1.8" height="1.2" fill="#2a4a8a"/>
<path d="M75.57,562.49 V575.12" stroke="#4a6aa8" stroke-width="0.8"/>
<rect x="74.67" y="574.52" width="1.8" height="1.2" fill="#2a4a8a"/>
<path d="M78.83,560.88 V574.05" stroke="#4a6aa8" stroke-width="0.8"/>
<rect x="77.93" y="573.45" width="1.8" height="1.2" fill="#2a4a8a"/>
<path d="M82.09,559.38 V573.05" stroke="#4a6aa8" stroke-width="0.8"/>
<rect x="81.19" y="572.45" width="1.8" height="1.2" fill="#2a4a8a"/>
<path d="M85.34,557.97 V572.12" stroke="#4a6aa8" stroke-width="0.8"/>
<rect x="84.44" y="571.52" width="1.8" height="1.2" fill="#2a4a8a"/>
<path d="M88.60,556.65 V571.24" stroke="#4a6aa8" stroke-width="0.8"/>
<rect x="87.70" y="570.64" width="1.8" height="1.2" fill="#2a4a8a"/>
<path d="M91.86,555.39 V570.40" stroke="#4a6aa8" stroke-width="0.8"/>
<rect x="90.96" y="569.80" width="1.8" height="1.2" fill="#2a4a8a"/>
<path d="M95.11,554.21 V569.62" stroke="#4a6aa8" stroke-width="0.8"/>
<rect x="94.21" y="569.02" width="1.8" height="1.2" fill="#2a4a8a"/>
<path d="M98.37,553.08 V568.87" stroke="#4a6aa8" stroke-width="0.8"/>
<rect x="97.47" y="568.27" width="1.8" height="1.2" fill="#2a4a8a"/>
<path d="M101.63,552.01 V568.15" stroke="#4a6aa8" stroke-width="0.8"/>
<rect x="100.73" y="567.55" width="1.8" height="1.2" fill="#2a4a8a"/>
<path d="M104.89,550.98 V567.47" stroke="#4a6aa8" stroke-width="0.8"/>
<rect x="103.99" y="566.87" width="1.8" height="1.2" fill="#2a4a8a"/>
<path d="M108.14,550.00 V566.82" stroke="#4a6aa8" stroke-width="0.8"/>
<rect x="107.24" y="566.22" width="1.8" height="1.2" fill="#2a4a8a"/>
<path d="M111.40,549.07 V566.20" stroke="#4a6aa8" stroke-width="0.8"/>
<rect x="110.50" y="565.60" width="1.8" height="1.2" fill="#2a4a8a"/>
<path d="M114.66,548.16 V565.60" stroke="#4a6aa8" stroke-width="0.8"/>
<rect x="113.76" y="565.00" width="1.8" height="1.2" fill="#2a4a8a"/>
<path d="M117.91,547.30 V565.02" stroke="#4a6aa8" stroke-width="0.8"/>
<rect x="117.01" y="564.42" width="1.8" height="1.2" fill="#2a4a8a"/>
<path d="M121.17,546.46 V564.46" stroke="#4a6aa8" stroke-width="0.8"/>
<rect x="120.27" y="563.86" width="1.8" height="1.2" fill="#2a4a8a"/>
<path d="M124.43,545.66 V563.93" stroke="#4a6aa8" stroke-width="0.8"/>
<rect x="123.53" y="563.33" width="1.8" height="1.2" fill="#2a4a8a"/>
<path d="M127.69,544.88 V563.41" stroke="#4a6aa8" stroke-width="0.8"/>
<rect x="126.79" y="562.81" width="1.8" height="1.2" fill="#2a4a8a"/>
<path d="M130.94,544.13 V562.91" stroke="#4a6aa8" stroke-width="0.8"/>
<rect x="130.04" y="562.31" width="1.8" height="1.2" fill="#2a4a8a"/>
<path d="M134.20,543.40 V562.43" stroke="#4a6aa8" stroke-width="0.8"/>
<rect x="133.30" y="561.83" width="1.8" height="1.2" fill="#2a4a8a"/>
<path d="M43.00,589.37 V594.70" stroke="#c8456a" stroke-width="1.0"/>
<rect x="42.10" y="588.77" width="1.8" height="1.2" fill="#3a2050"/>
<rect x="42.10" y="594.10" width="1.8" height="1.2" fill="#8a1a40"/>
<path d="M46.26,581.38 V590.63" stroke="#c8456a" stroke-width="1.0"/>
<rect x="45.36" y="580.78" width="1.8" height="1.2" fill="#3a2050"/>
<rect x="45.36" y="590.03" width="1.8" height="1.2" fill="#8a1a40"/>
<path d="M49.51,575.00 V587.36" stroke="#c8456a" stroke-width="1.0"/>
<rect x="48.61" y="574.40" width="1.8" height="1.2" fill="#3a2050"/>
<rect x="48.61" y="586.76" width="1.8" height="1.2" fill="#8a1a40"/>
<path d="M52.77,569.70 V584.64" stroke="#c8456a" stroke-width="1.0"/>
<rect x="51.87" y="569.10" width="1.8" height="1.2" fill="#3a2050"/>
<rect x="51.87" y="584.04" width="1.8" height="1.2" fill="#8a1a40"/>
<path d="M56.03,565.18 V582.30" stroke="#c8456a" stroke-width="1.0"/>
<rect x="55.13" y="564.58" width="1.8" height="1.2" fill="#3a2050"/>
<rect x="55.13" y="581.70" width="1.8" height="1.2" fill="#8a1a40"/>
<path d="M59.29,561.23 V580.26" stroke="#c8456a" stroke-width="1.0"/>
<rect x="58.39" y="560.63" width="1.8" height="1.2" fill="#3a2050"/>
<rect x="58.39" y="579.66" width="1.8" height="1.2" fill="#8a1a40"/>
<path d="M62.54,557.73 V578.44" stroke="#c8456a" stroke-width="1.0"/>
<rect x="61.64" y="557.13" width="1.8" height="1.2" fill="#3a2050"/>
<rect x="61.64" y="577.84" width="1.8" height="1.2" fill="#8a1a40"/>
<path d="M65.80,554.60 V576.80" stroke="#c8456a" stroke-width="1.0"/>
<rect x="64.90" y="554.00" width="1.8" height="1.2" fill="#3a2050"/>
<rect x="64.90" y="576.20" width="1.8" height="1.2" fill="#8a1a40"/>
<path d="M69.06,551.77 V575.31" stroke="#c8456a" stroke-width="1.0"/>
<rect x="68.16" y="551.17" width="1.8" height="1.2" fill="#3a2050"/>
<rect x="68.16" y="574.71" width="1.8" height="1.2" fill="#8a1a40"/>
<path d="M72.31,549.19 V573.94" stroke="#c8456a" stroke-width="1.0"/>
<rect x="71.41" y="548.59" width="1.8" height="1.2" fill="#3a2050"/>
<rect x="71.41" y="573.34" width="1.8" height="1.2" fill="#8a1a40"/>
<path d="M75.57,546.81 V572.68" stroke="#c8456a" stroke-width="1.0"/>
<rect x="74.67" y="546.21" width="1.8" height="1.2" fill="#3a2050"/>
<rect x="74.67" y="572.08" width="1.8" height="1.2" fill="#8a1a40"/>
<path d="M78.83,544.62 V571.50" stroke="#c8456a" stroke-width="1.0"/>
<rect x="77.93" y="544.02" width="1.8" height="1.2" fill="#3a2050"/>
<rect x="77.93" y="570.90" width="1.8" height="1.2" fill="#8a1a40"/>
<path d="M82.09,542.59 V570.41" stroke="#c8456a" stroke-width="1.0"/>
<rect x="81.19" y="541.99" width="1.8" height="1.2" fill="#3a2050"/>
<rect x="81.19" y="569.81" width="1.8" height="1.2" fill="#8a1a40"/>
<path d="M85.34,540.69 V569.38" stroke="#c8456a" stroke-width="1.0"/>
<rect x="84.44" y="540.09" width="1.8" height="1.2" fill="#3a2050"/>
<rect x="84.44" y="568.78" width="1.8" height="1.2" fill="#8a1a40"/>
<path d="M88.60,538.92 V568.41" stroke="#c8456a" stroke-width="1.0"/>
<rect x="87.70" y="538.32" width="1.8" height="1.2" fill="#3a2050"/>
<rect x="87.70" y="567.81" width="1.8" height="1.2" fill="#8a1a40"/>
<path d="M91.86,537.25 V567.50" stroke="#c8456a" stroke-width="1.0"/>
<rect x="90.96" y="536.65" width="1.8" height="1.2" fill="#3a2050"/>
<rect x="90.96" y="566.90" width="1.8" height="1.2" fill="#8a1a40"/>
<path d="M95.11,535.68 V566.63" stroke="#c8456a" stroke-width="1.0"/>
<rect x="94.21" y="535.08" width="1.8" height="1.2" fill="#3a2050"/>
<rect x="94.21" y="566.03" width="1.8" height="1.2" fill="#8a1a40"/>
<path d="M98.37,534.20 V565.81" stroke="#c8456a" stroke-width="1.0"/>
<rect x="97.47" y="533.60" width="1.8" height="1.2" fill="#3a2050"/>
<rect x="97.47" y="565.21" width="1.8" height="1.2" fill="#8a1a40"/>
<path d="M101.63,532.80 V565.03" stroke="#c8456a" stroke-width="1.0"/>
<rect x="100.73" y="532.20" width="1.8" height="1.2" fill="#3a2050"/>
<rect x="100.73" y="564.43" width="1.8" height="1.2" fill="#8a1a40"/>
<path d="M104.89,531.47 V564.28" stroke="#c8456a" stroke-width="1.0"/>
<rect x="103.99" y="530.87" width="1.8" height="1.2" fill="#3a2050"/>
<rect x="103.99" y="563.68" width="1.8" height="1.2" fill="#8a1a40"/>
<path d="M108.14,530.21 V563.57" stroke="#c8456a" stroke-width="1.0"/>
<rect x="107.24" y="529.61" width="1.8" height="1.2" fill="#3a2050"/>
<rect x="107.24" y="562.97" width="1.8" height="1.2" fill="#8a1a40"/>
<path d="M111.40,529.01 V562.88" stroke="#c8456a" stroke-width="1.0"/>
<rect x="110.50" y="528.41" width="1.8" height="1.2" fill="#3a2050"/>
<rect x="110.50" y="562.28" width="1.8" height="1.2" fill="#8a1a40"/>
<path d="M114.66,527.87 V562.22" stroke="#c8456a" stroke-width="1.0"/>
<rect x="113.76" y="527.27" width="1.8" height="1.2" fill="#3a2050"/>
<rect x="113.76" y="561.62" width="1.8" height="1.2" fill="#8a1a40"/>
<path d="M117.91,526.77 V561.59" stroke="#c8456a" stroke-width="1.0"/>
<rect x="117.01" y="526.17" width="1.8" height="1.2" fill="#3a2050"/>
<rect x="117.01" y="560.99" width="1.8" height="1.2" fill="#8a1a40"/>
<path d="M121.17,525.73 V560.98" stroke="#c8456a" stroke-width="1.0"/>
<rect x="120.27" y="525.13" width="1.8" height="1.2" fill="#3a2050"/>
<rect x="120.27" y="560.38" width="1.8" height="1.2" fill="#8a1a40"/>
<path d="M124.43,524.73 V560.39" stroke="#c8456a" stroke-width="1.0"/>
<rect x="123.53" y="524.13" width="1.8" height="1.2" fill="#3a2050"/>
<rect x="123.53" y="559.79" width="1.8" height="1.2" fill="#8a1a40"/>
<path d="M127.69,523.77 V559.82" stroke="#c8456a" stroke-width="1.0"/>
<rect x="126.79" y="523.17" width="1.8" height="1.2" fill="#3a2050"/>
<rect x="126.79" y="559.22" width="1.8" height="1.2" fill="#8a1a40"/>
<path d="M130.94,522.85 V559.28" stroke="#c8456a" stroke-width="1.0"/>
<rect x="130.04" y="522.25" width="1.8" height="1.2" fill="#3a2050"/>
<rect x="130.04" y="558.68" width="1.8" height="1.2" fill="#8a1a40"/>
<path d="M134.20,521.96 V558.74" stroke="#c8456a" stroke-width="1.0"/>
<rect x="133.30" y="521.36" width="1.8" height="1.2" fill="#3a2050"/>
<rect x="133.30" y="558.14" width="1.8" height="1.2" fill="#8a1a40"/>
<polyline points="39.70,600.20 40.30,598.64 40.89,597.18 42.08,594.52 43.87,591.03 45.66,588.01 48.63,583.73 51.61,580.14 57.57,574.31 63.53,569.68 69.48,565.84 75.44,562.55 81.39,559.69 87.35,557.14 93.31,554.86 99.26,552.78 105.22,550.88 111.17,549.13 117.13,547.50 123.09,545.98 129.04,544.56 135.00,543.22" fill="none" stroke="#2e4f8f" stroke-width="1.4"/>
<polyline points="39.70,600.20 40.30,598.59 40.89,597.07 42.08,594.32 43.87,590.71 45.66,587.58 48.63,583.15 51.61,579.43 57.57,573.40 63.53,568.60 69.48,564.63 75.44,561.23 81.39,558.26 87.35,555.63 93.31,553.26 99.26,551.11 105.22,549.15 111.17,547.33 117.13,545.65 123.09,544.08 129.04,542.60 135.00,541.22" fill="none" stroke="#a8183a" stroke-width="1.4"/>
<line x1="46.00" y1="507.10" x2="53.00" y2="507.10" stroke="#2e4f8f" stroke-width="1.3" />
<text x="55.40" y="509.10" font-size="5.5" text-anchor="start" font-weight="normal" fill="#1a1a1a"  style="stroke-width:0.1px">TCD-BM+T</text>
<line x1="46.00" y1="516.80" x2="53.00" y2="516.80" stroke="#a8183a" stroke-width="1.3" />
<text x="55.40" y="518.80" font-size="5.5" text-anchor="start" font-weight="normal" fill="#1a1a1a"  style="stroke-width:0.1px">TCD-BM+T+Choline</text>
<text x="158.80" y="493.80" font-size="11.5" text-anchor="start" font-weight="bold" fill="#000"  style="stroke:none">H</text>
<circle cx="190.9" cy="497.1" r="2.1" fill="#1f3f8a"/>
<text x="195.80" y="499.00" font-size="5.4" text-anchor="start" font-weight="normal" fill="#1a1a1a"  style="stroke-width:0.1px">TCD-BM+T (<tspan font-style="italic">n</tspan>=6)</text>
<circle cx="190.9" cy="508.7" r="2.1" fill="#a8102e"/>
<text x="195.80" y="510.60" font-size="5.4" text-anchor="start" font-weight="normal" fill="#1a1a1a"  style="stroke-width:0.1px">TCD-BM+T+Choline (<tspan font-style="italic">n</tspan>=6)</text>
<path d="M170.7,514.8 V600.2 H280.6 M170.7,600.2 L159.4,606.4" stroke="#111" stroke-width="1.1" fill="none"/>
<text x="178.80" y="524.40" font-size="6.2" text-anchor="start" font-weight="normal" fill="#1a1a1a" >PC2(29.69%)</text>
<text x="168.80" y="615.10" font-size="6.2" text-anchor="start" font-weight="normal" fill="#1a1a1a" >PC3(6.75%)</text>
<text x="230.80" y="615.10" font-size="6.2" text-anchor="start" font-weight="normal" fill="#1a1a1a" >PC1(48.74)</text>
<circle cx="235.4" cy="527.5" r="2.2" fill="#a8102e"/>
<circle cx="255.8" cy="533.7" r="2.2" fill="#a8102e"/>
<circle cx="252.3" cy="537.5" r="2.2" fill="#a8102e"/>
<circle cx="255.0" cy="570.0" r="2.2" fill="#a8102e"/>
<circle cx="259.6" cy="592.9" r="2.2" fill="#a8102e"/>
<circle cx="269.3" cy="593.5" r="2.2" fill="#a8102e"/>
<circle cx="270.6" cy="522.1" r="2.2" fill="#1f3f8a"/>
<circle cx="274.7" cy="560.1" r="2.2" fill="#1f3f8a"/>
<circle cx="268.5" cy="569.8" r="2.2" fill="#1f3f8a"/>
<circle cx="213.3" cy="563.3" r="2.2" fill="#1f3f8a"/>
<circle cx="170.2" cy="578.1" r="2.2" fill="#1f3f8a"/>
<circle cx="266.6" cy="594.8" r="2.2" fill="#1f3f8a"/>
<text x="296.20" y="493.80" font-size="11.5" text-anchor="start" font-weight="bold" fill="#000"  style="stroke:none">I</text>
<rect x="325.80" y="505.40" width="7.20" height="3.60" fill="#a8002d" />
<text x="335.80" y="509.00" font-size="5.4" text-anchor="start" font-weight="normal" fill="#1a1a1a"  style="stroke-width:0.1px">TCD-BM+T (<tspan font-style="italic">n</tspan>=6)</text>
<rect x="325.80" y="517.80" width="7.20" height="3.60" fill="#2b4a87" />
<text x="335.80" y="521.40" font-size="5.4" text-anchor="start" font-weight="normal" fill="#1a1a1a"  style="stroke-width:0.1px">TCD-BM+T+Choline (<tspan font-style="italic">n</tspan>=6)</text>
<path d="M299.0,600.1 V536.9 H456.0 V600.1 H299.0" stroke="#111" stroke-width="1.0" fill="none"/>
<path d="M299.20,600.1 v2" stroke="#111" stroke-width="1.0"/>
<text x="299.20" y="611.60" font-size="6.6" text-anchor="middle" font-weight="normal" fill="#1a1a1a" >-3</text>
<path d="M325.30,600.1 v2" stroke="#111" stroke-width="1.0"/>
<text x="325.30" y="611.60" font-size="6.6" text-anchor="middle" font-weight="normal" fill="#1a1a1a" >-2</text>
<path d="M351.40,600.1 v2" stroke="#111" stroke-width="1.0"/>
<text x="351.40" y="611.60" font-size="6.6" text-anchor="middle" font-weight="normal" fill="#1a1a1a" >-1</text>
<path d="M377.50,600.1 v2" stroke="#111" stroke-width="1.0"/>
<text x="377.50" y="611.60" font-size="6.6" text-anchor="middle" font-weight="normal" fill="#1a1a1a" >0</text>
<path d="M403.60,600.1 v2" stroke="#111" stroke-width="1.0"/>
<text x="403.60" y="611.60" font-size="6.6" text-anchor="middle" font-weight="normal" fill="#1a1a1a" >1</text>
<path d="M429.70,600.1 v2" stroke="#111" stroke-width="1.0"/>
<text x="429.70" y="611.60" font-size="6.6" text-anchor="middle" font-weight="normal" fill="#1a1a1a" >2</text>
<path d="M455.80,600.1 v2" stroke="#111" stroke-width="1.0"/>
<text x="455.80" y="611.60" font-size="6.6" text-anchor="middle" font-weight="normal" fill="#1a1a1a" >3</text>
<rect x="377.50" y="537.40" width="77.80" height="5.60" fill="#a8002d" />
<text x="375.10" y="542.10" font-size="5.45" text-anchor="end" font-weight="normal" fill="#1a1a1a"  style="stroke-width:0.1px">Deferribacterales</text>
<rect x="377.50" y="544.40" width="77.80" height="5.60" fill="#a8002d" />
<text x="375.10" y="549.10" font-size="5.45" text-anchor="end" font-weight="normal" fill="#1a1a1a"  style="stroke-width:0.1px">Deferribacteres</text>
<rect x="377.50" y="551.40" width="77.80" height="5.60" fill="#a8002d" />
<text x="375.10" y="556.10" font-size="5.45" text-anchor="end" font-weight="normal" fill="#1a1a1a"  style="stroke-width:0.1px">Mucispirillum</text>
<rect x="377.50" y="558.40" width="77.80" height="5.60" fill="#a8002d" />
<text x="375.10" y="563.10" font-size="5.45" text-anchor="end" font-weight="normal" fill="#1a1a1a"  style="stroke-width:0.1px">Deferribacteraceae</text>
<rect x="377.50" y="565.40" width="77.80" height="5.60" fill="#a8002d" />
<text x="375.10" y="570.10" font-size="5.45" text-anchor="end" font-weight="normal" fill="#1a1a1a"  style="stroke-width:0.1px">Deferribacteres</text>
<rect x="377.50" y="572.40" width="67.86" height="5.60" fill="#a8002d" />
<text x="375.10" y="577.10" font-size="5.45" text-anchor="end" font-weight="normal" fill="#1a1a1a"  style="stroke-width:0.1px">AF12</text>
<rect x="309.64" y="579.40" width="67.26" height="5.60" fill="#2b4a87" />
<text x="380.50" y="584.10" font-size="5.45" text-anchor="start" font-weight="normal" fill="#1a1a1a"  style="stroke-width:0.1px">Anaeroplasmatales</text>
<rect x="308.33" y="586.40" width="68.57" height="5.60" fill="#2b4a87" />
<text x="380.50" y="591.10" font-size="5.45" text-anchor="start" font-weight="normal" fill="#1a1a1a"  style="stroke-width:0.1px">Anaeroplasmataceae</text>
<rect x="308.33" y="593.40" width="68.57" height="5.60" fill="#2b4a87" />
<text x="380.50" y="598.10" font-size="5.45" text-anchor="start" font-weight="normal" fill="#1a1a1a"  style="stroke-width:0.1px">Anaeroplasma</text>
<rect x="0.65" y="0.6" width="518.7" height="631.75" fill="none" stroke="#000" stroke-width="1.3"/>
</svg></body></html>
